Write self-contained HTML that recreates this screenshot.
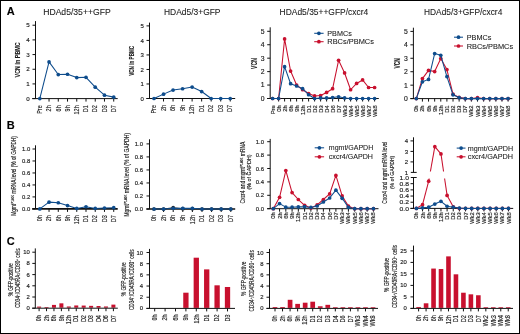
<!DOCTYPE html>
<html><head><meta charset="utf-8"><style>
html,body{margin:0;padding:0;background:#fff;}
body{width:520px;height:334px;overflow:hidden;}
svg{display:block;will-change:transform;font-family:"Liberation Sans", sans-serif;}
</style></head><body>
<svg width="520" height="334" viewBox="0 0 520 334">
<rect x="0" y="0" width="520" height="334" fill="#fff"/>
<text transform="translate(6.8,15.1)" font-size="11" text-anchor="start" font-weight="bold" fill="#000" stroke="#000" stroke-width="0.12">A</text>
<text transform="translate(6.8,128.9)" font-size="11" text-anchor="start" font-weight="bold" fill="#000" stroke="#000" stroke-width="0.12">B</text>
<text transform="translate(6.8,244.7)" font-size="11" text-anchor="start" font-weight="bold" fill="#000" stroke="#000" stroke-width="0.12">C</text>
<text transform="translate(43.2,15.4) scale(1.025,1)" font-size="8.4" text-anchor="start" fill="#1a1a1a" stroke="#1a1a1a" stroke-width="0.08">HDAd5/35++GFP</text>
<text transform="translate(164,15.4) scale(1.006,1)" font-size="8.4" text-anchor="start" fill="#1a1a1a" stroke="#1a1a1a" stroke-width="0.08">HDAd5/3+GFP</text>
<text transform="translate(279.6,15.4) scale(1.007,1)" font-size="8.4" text-anchor="start" fill="#1a1a1a" stroke="#1a1a1a" stroke-width="0.08">HDAd5/35++GFP/cxcr4</text>
<text transform="translate(424,15.4) scale(0.997,1)" font-size="8.4" text-anchor="start" fill="#1a1a1a" stroke="#1a1a1a" stroke-width="0.08">HDAd5/3+GFP/cxcr4</text>
<line x1="35.5" y1="21.1" x2="35.5" y2="98.6" stroke="#111" stroke-width="1"/>
<line x1="32.5" y1="98.6" x2="35.5" y2="98.6" stroke="#111" stroke-width="1"/>
<text transform="translate(29.8,100.77)" font-size="6.2" text-anchor="end" fill="#1a1a1a" stroke="#1a1a1a" stroke-width="0.15">0</text>
<line x1="32.5" y1="83.92" x2="35.5" y2="83.92" stroke="#111" stroke-width="1"/>
<text transform="translate(29.8,86.09)" font-size="6.2" text-anchor="end" fill="#1a1a1a" stroke="#1a1a1a" stroke-width="0.15">1</text>
<line x1="32.5" y1="69.25" x2="35.5" y2="69.25" stroke="#111" stroke-width="1"/>
<text transform="translate(29.8,71.42)" font-size="6.2" text-anchor="end" fill="#1a1a1a" stroke="#1a1a1a" stroke-width="0.15">2</text>
<line x1="32.5" y1="54.57" x2="35.5" y2="54.57" stroke="#111" stroke-width="1"/>
<text transform="translate(29.8,56.74)" font-size="6.2" text-anchor="end" fill="#1a1a1a" stroke="#1a1a1a" stroke-width="0.15">3</text>
<line x1="32.5" y1="39.9" x2="35.5" y2="39.9" stroke="#111" stroke-width="1"/>
<text transform="translate(29.8,42.07)" font-size="6.2" text-anchor="end" fill="#1a1a1a" stroke="#1a1a1a" stroke-width="0.15">4</text>
<line x1="32.5" y1="25.22" x2="35.5" y2="25.22" stroke="#111" stroke-width="1"/>
<text transform="translate(29.8,27.39)" font-size="6.2" text-anchor="end" fill="#1a1a1a" stroke="#1a1a1a" stroke-width="0.15">5</text>
<line x1="32.2" y1="98.6" x2="117.7" y2="98.6" stroke="#111" stroke-width="1"/>
<line x1="49.04" y1="98.6" x2="49.04" y2="101.6" stroke="#111" stroke-width="1"/>
<line x1="58.28" y1="98.6" x2="58.28" y2="101.6" stroke="#111" stroke-width="1"/>
<line x1="67.52" y1="98.6" x2="67.52" y2="101.6" stroke="#111" stroke-width="1"/>
<line x1="76.76" y1="98.6" x2="76.76" y2="101.6" stroke="#111" stroke-width="1"/>
<line x1="86" y1="98.6" x2="86" y2="101.6" stroke="#111" stroke-width="1"/>
<line x1="95.24" y1="98.6" x2="95.24" y2="101.6" stroke="#111" stroke-width="1"/>
<line x1="104.48" y1="98.6" x2="104.48" y2="101.6" stroke="#111" stroke-width="1"/>
<line x1="113.72" y1="98.6" x2="113.72" y2="101.6" stroke="#111" stroke-width="1"/>
<text transform="translate(42.04,105.3) rotate(-90) scale(0.860,1)" font-size="6.4" text-anchor="end" fill="#1a1a1a" stroke="#1a1a1a" stroke-width="0.15">Pre</text>
<text transform="translate(51.28,105.3) rotate(-90) scale(0.860,1)" font-size="6.4" text-anchor="end" fill="#1a1a1a" stroke="#1a1a1a" stroke-width="0.15">2h</text>
<text transform="translate(60.52,105.3) rotate(-90) scale(0.860,1)" font-size="6.4" text-anchor="end" fill="#1a1a1a" stroke="#1a1a1a" stroke-width="0.15">6h</text>
<text transform="translate(69.76,105.3) rotate(-90) scale(0.860,1)" font-size="6.4" text-anchor="end" fill="#1a1a1a" stroke="#1a1a1a" stroke-width="0.15">9h</text>
<text transform="translate(79,105.3) rotate(-90) scale(0.860,1)" font-size="6.4" text-anchor="end" fill="#1a1a1a" stroke="#1a1a1a" stroke-width="0.15">12h</text>
<text transform="translate(88.24,105.3) rotate(-90) scale(0.860,1)" font-size="6.4" text-anchor="end" fill="#1a1a1a" stroke="#1a1a1a" stroke-width="0.15">D1</text>
<text transform="translate(97.48,105.3) rotate(-90) scale(0.860,1)" font-size="6.4" text-anchor="end" fill="#1a1a1a" stroke="#1a1a1a" stroke-width="0.15">D2</text>
<text transform="translate(106.72,105.3) rotate(-90) scale(0.860,1)" font-size="6.4" text-anchor="end" fill="#1a1a1a" stroke="#1a1a1a" stroke-width="0.15">D3</text>
<text transform="translate(115.96,105.3) rotate(-90) scale(0.860,1)" font-size="6.4" text-anchor="end" fill="#1a1a1a" stroke="#1a1a1a" stroke-width="0.15">D7</text>
<polyline points="39.8,98.6 49.04,61.91 58.28,74.53 67.52,74.24 76.76,77.61 86,77.32 95.24,87.15 104.48,95.22 113.72,97.13" fill="none" stroke="#0e4c8c" stroke-width="1.05" stroke-linejoin="round"/>
<circle cx="39.8" cy="98.6" r="1.85" fill="#0e4c8c"/>
<circle cx="49.04" cy="61.91" r="1.85" fill="#0e4c8c"/>
<circle cx="58.28" cy="74.53" r="1.85" fill="#0e4c8c"/>
<circle cx="67.52" cy="74.24" r="1.85" fill="#0e4c8c"/>
<circle cx="76.76" cy="77.61" r="1.85" fill="#0e4c8c"/>
<circle cx="86" cy="77.32" r="1.85" fill="#0e4c8c"/>
<circle cx="95.24" cy="87.15" r="1.85" fill="#0e4c8c"/>
<circle cx="104.48" cy="95.22" r="1.85" fill="#0e4c8c"/>
<circle cx="113.72" cy="97.13" r="1.85" fill="#0e4c8c"/>
<text transform="translate(19.6,77.4) rotate(-90) scale(0.694,1)" font-size="7.8" text-anchor="start" font-weight="bold" fill="#1a1a1a" stroke="#1a1a1a" stroke-width="0.12">VCN in PBMC</text>
<line x1="149.5" y1="22.6" x2="149.5" y2="98.5" stroke="#111" stroke-width="1"/>
<line x1="146.5" y1="98.5" x2="149.5" y2="98.5" stroke="#111" stroke-width="1"/>
<text transform="translate(143.8,100.6)" font-size="6" text-anchor="end" fill="#1a1a1a" stroke="#1a1a1a" stroke-width="0.15">0</text>
<line x1="146.5" y1="83.98" x2="149.5" y2="83.98" stroke="#111" stroke-width="1"/>
<text transform="translate(143.8,86.08)" font-size="6" text-anchor="end" fill="#1a1a1a" stroke="#1a1a1a" stroke-width="0.15">1</text>
<line x1="146.5" y1="69.46" x2="149.5" y2="69.46" stroke="#111" stroke-width="1"/>
<text transform="translate(143.8,71.56)" font-size="6" text-anchor="end" fill="#1a1a1a" stroke="#1a1a1a" stroke-width="0.15">2</text>
<line x1="146.5" y1="54.94" x2="149.5" y2="54.94" stroke="#111" stroke-width="1"/>
<text transform="translate(143.8,57.04)" font-size="6" text-anchor="end" fill="#1a1a1a" stroke="#1a1a1a" stroke-width="0.15">3</text>
<line x1="146.5" y1="40.42" x2="149.5" y2="40.42" stroke="#111" stroke-width="1"/>
<text transform="translate(143.8,42.52)" font-size="6" text-anchor="end" fill="#1a1a1a" stroke="#1a1a1a" stroke-width="0.15">4</text>
<line x1="146.5" y1="25.9" x2="149.5" y2="25.9" stroke="#111" stroke-width="1"/>
<text transform="translate(143.8,28)" font-size="6" text-anchor="end" fill="#1a1a1a" stroke="#1a1a1a" stroke-width="0.15">5</text>
<line x1="146.4" y1="98.5" x2="235.2" y2="98.5" stroke="#111" stroke-width="1"/>
<line x1="163.53" y1="98.5" x2="163.53" y2="101.5" stroke="#111" stroke-width="1"/>
<line x1="173.06" y1="98.5" x2="173.06" y2="101.5" stroke="#111" stroke-width="1"/>
<line x1="182.59" y1="98.5" x2="182.59" y2="101.5" stroke="#111" stroke-width="1"/>
<line x1="192.12" y1="98.5" x2="192.12" y2="101.5" stroke="#111" stroke-width="1"/>
<line x1="201.65" y1="98.5" x2="201.65" y2="101.5" stroke="#111" stroke-width="1"/>
<line x1="211.18" y1="98.5" x2="211.18" y2="101.5" stroke="#111" stroke-width="1"/>
<line x1="220.71" y1="98.5" x2="220.71" y2="101.5" stroke="#111" stroke-width="1"/>
<line x1="230.24" y1="98.5" x2="230.24" y2="101.5" stroke="#111" stroke-width="1"/>
<text transform="translate(156.24,105) rotate(-90) scale(0.860,1)" font-size="6.4" text-anchor="end" fill="#1a1a1a" stroke="#1a1a1a" stroke-width="0.15">Pre</text>
<text transform="translate(165.77,105) rotate(-90) scale(0.860,1)" font-size="6.4" text-anchor="end" fill="#1a1a1a" stroke="#1a1a1a" stroke-width="0.15">2h</text>
<text transform="translate(175.3,105) rotate(-90) scale(0.860,1)" font-size="6.4" text-anchor="end" fill="#1a1a1a" stroke="#1a1a1a" stroke-width="0.15">6h</text>
<text transform="translate(184.83,105) rotate(-90) scale(0.860,1)" font-size="6.4" text-anchor="end" fill="#1a1a1a" stroke="#1a1a1a" stroke-width="0.15">9h</text>
<text transform="translate(194.36,105) rotate(-90) scale(0.860,1)" font-size="6.4" text-anchor="end" fill="#1a1a1a" stroke="#1a1a1a" stroke-width="0.15">12h</text>
<text transform="translate(203.89,105) rotate(-90) scale(0.860,1)" font-size="6.4" text-anchor="end" fill="#1a1a1a" stroke="#1a1a1a" stroke-width="0.15">D1</text>
<text transform="translate(213.42,105) rotate(-90) scale(0.860,1)" font-size="6.4" text-anchor="end" fill="#1a1a1a" stroke="#1a1a1a" stroke-width="0.15">D2</text>
<text transform="translate(222.95,105) rotate(-90) scale(0.860,1)" font-size="6.4" text-anchor="end" fill="#1a1a1a" stroke="#1a1a1a" stroke-width="0.15">D3</text>
<text transform="translate(232.48,105) rotate(-90) scale(0.860,1)" font-size="6.4" text-anchor="end" fill="#1a1a1a" stroke="#1a1a1a" stroke-width="0.15">D7</text>
<polyline points="154,98.5 163.53,94.14 173.06,90.08 182.59,88.77 192.12,87.03 201.65,91.53 211.18,98.5 220.71,98.5 230.24,98.5" fill="none" stroke="#0e4c8c" stroke-width="1.05" stroke-linejoin="round"/>
<circle cx="154" cy="98.5" r="1.85" fill="#0e4c8c"/>
<circle cx="163.53" cy="94.14" r="1.85" fill="#0e4c8c"/>
<circle cx="173.06" cy="90.08" r="1.85" fill="#0e4c8c"/>
<circle cx="182.59" cy="88.77" r="1.85" fill="#0e4c8c"/>
<circle cx="192.12" cy="87.03" r="1.85" fill="#0e4c8c"/>
<circle cx="201.65" cy="91.53" r="1.85" fill="#0e4c8c"/>
<circle cx="211.18" cy="98.5" r="1.85" fill="#0e4c8c"/>
<circle cx="220.71" cy="98.5" r="1.85" fill="#0e4c8c"/>
<circle cx="230.24" cy="98.5" r="1.85" fill="#0e4c8c"/>
<text transform="translate(134,75.8) rotate(-90) scale(0.681,1)" font-size="6.8" text-anchor="start" font-weight="bold" fill="#1a1a1a" stroke="#1a1a1a" stroke-width="0.12">VCN in PBMC</text>
<line x1="270.2" y1="27.3" x2="270.2" y2="98.5" stroke="#111" stroke-width="1"/>
<line x1="267.2" y1="98.5" x2="270.2" y2="98.5" stroke="#111" stroke-width="1"/>
<text transform="translate(264.5,100.88)" font-size="6.8" text-anchor="end" fill="#1a1a1a" stroke="#1a1a1a" stroke-width="0.15">0</text>
<line x1="267.2" y1="85.06" x2="270.2" y2="85.06" stroke="#111" stroke-width="1"/>
<text transform="translate(264.5,87.44)" font-size="6.8" text-anchor="end" fill="#1a1a1a" stroke="#1a1a1a" stroke-width="0.15">1</text>
<line x1="267.2" y1="71.62" x2="270.2" y2="71.62" stroke="#111" stroke-width="1"/>
<text transform="translate(264.5,74)" font-size="6.8" text-anchor="end" fill="#1a1a1a" stroke="#1a1a1a" stroke-width="0.15">2</text>
<line x1="267.2" y1="58.18" x2="270.2" y2="58.18" stroke="#111" stroke-width="1"/>
<text transform="translate(264.5,60.56)" font-size="6.8" text-anchor="end" fill="#1a1a1a" stroke="#1a1a1a" stroke-width="0.15">3</text>
<line x1="267.2" y1="44.74" x2="270.2" y2="44.74" stroke="#111" stroke-width="1"/>
<text transform="translate(264.5,47.12)" font-size="6.8" text-anchor="end" fill="#1a1a1a" stroke="#1a1a1a" stroke-width="0.15">4</text>
<line x1="267.2" y1="31.3" x2="270.2" y2="31.3" stroke="#111" stroke-width="1"/>
<text transform="translate(264.5,33.68)" font-size="6.8" text-anchor="end" fill="#1a1a1a" stroke="#1a1a1a" stroke-width="0.15">5</text>
<line x1="267" y1="98.5" x2="378.8" y2="98.5" stroke="#111" stroke-width="1"/>
<line x1="278.6" y1="98.5" x2="278.6" y2="101.5" stroke="#111" stroke-width="1"/>
<line x1="284.6" y1="98.5" x2="284.6" y2="101.5" stroke="#111" stroke-width="1"/>
<line x1="290.6" y1="98.5" x2="290.6" y2="101.5" stroke="#111" stroke-width="1"/>
<line x1="296.6" y1="98.5" x2="296.6" y2="101.5" stroke="#111" stroke-width="1"/>
<line x1="302.6" y1="98.5" x2="302.6" y2="101.5" stroke="#111" stroke-width="1"/>
<line x1="308.6" y1="98.5" x2="308.6" y2="101.5" stroke="#111" stroke-width="1"/>
<line x1="314.6" y1="98.5" x2="314.6" y2="101.5" stroke="#111" stroke-width="1"/>
<line x1="320.6" y1="98.5" x2="320.6" y2="101.5" stroke="#111" stroke-width="1"/>
<line x1="326.6" y1="98.5" x2="326.6" y2="101.5" stroke="#111" stroke-width="1"/>
<line x1="332.6" y1="98.5" x2="332.6" y2="101.5" stroke="#111" stroke-width="1"/>
<line x1="338.6" y1="98.5" x2="338.6" y2="101.5" stroke="#111" stroke-width="1"/>
<line x1="344.6" y1="98.5" x2="344.6" y2="101.5" stroke="#111" stroke-width="1"/>
<line x1="350.6" y1="98.5" x2="350.6" y2="101.5" stroke="#111" stroke-width="1"/>
<line x1="356.6" y1="98.5" x2="356.6" y2="101.5" stroke="#111" stroke-width="1"/>
<line x1="362.6" y1="98.5" x2="362.6" y2="101.5" stroke="#111" stroke-width="1"/>
<line x1="368.6" y1="98.5" x2="368.6" y2="101.5" stroke="#111" stroke-width="1"/>
<line x1="374.6" y1="98.5" x2="374.6" y2="101.5" stroke="#111" stroke-width="1"/>
<text transform="translate(274.63,105.3) rotate(-90)" font-size="5.8" text-anchor="end" fill="#1a1a1a" stroke="#1a1a1a" stroke-width="0.15">Pre</text>
<text transform="translate(280.63,105.3) rotate(-90)" font-size="5.8" text-anchor="end" fill="#1a1a1a" stroke="#1a1a1a" stroke-width="0.15">0h</text>
<text transform="translate(286.63,105.3) rotate(-90)" font-size="5.8" text-anchor="end" fill="#1a1a1a" stroke="#1a1a1a" stroke-width="0.15">2h</text>
<text transform="translate(292.63,105.3) rotate(-90)" font-size="5.8" text-anchor="end" fill="#1a1a1a" stroke="#1a1a1a" stroke-width="0.15">6h</text>
<text transform="translate(298.63,105.3) rotate(-90)" font-size="5.8" text-anchor="end" fill="#1a1a1a" stroke="#1a1a1a" stroke-width="0.15">9h</text>
<text transform="translate(304.63,105.3) rotate(-90)" font-size="5.8" text-anchor="end" fill="#1a1a1a" stroke="#1a1a1a" stroke-width="0.15">12h</text>
<text transform="translate(310.63,105.3) rotate(-90)" font-size="5.8" text-anchor="end" fill="#1a1a1a" stroke="#1a1a1a" stroke-width="0.15">D1</text>
<text transform="translate(316.63,105.3) rotate(-90)" font-size="5.8" text-anchor="end" fill="#1a1a1a" stroke="#1a1a1a" stroke-width="0.15">D2</text>
<text transform="translate(322.63,105.3) rotate(-90)" font-size="5.8" text-anchor="end" fill="#1a1a1a" stroke="#1a1a1a" stroke-width="0.15">D3</text>
<text transform="translate(328.63,105.3) rotate(-90)" font-size="5.8" text-anchor="end" fill="#1a1a1a" stroke="#1a1a1a" stroke-width="0.15">D4</text>
<text transform="translate(334.63,105.3) rotate(-90)" font-size="5.8" text-anchor="end" fill="#1a1a1a" stroke="#1a1a1a" stroke-width="0.15">D6</text>
<text transform="translate(340.63,105.3) rotate(-90)" font-size="5.8" text-anchor="end" fill="#1a1a1a" stroke="#1a1a1a" stroke-width="0.15">D7</text>
<text transform="translate(346.63,105.3) rotate(-90)" font-size="5.8" text-anchor="end" fill="#1a1a1a" stroke="#1a1a1a" stroke-width="0.15">Wk3</text>
<text transform="translate(352.63,105.3) rotate(-90)" font-size="5.8" text-anchor="end" fill="#1a1a1a" stroke="#1a1a1a" stroke-width="0.15">Wk4</text>
<text transform="translate(358.63,105.3) rotate(-90)" font-size="5.8" text-anchor="end" fill="#1a1a1a" stroke="#1a1a1a" stroke-width="0.15">Wk5</text>
<text transform="translate(364.63,105.3) rotate(-90)" font-size="5.8" text-anchor="end" fill="#1a1a1a" stroke="#1a1a1a" stroke-width="0.15">Wk6</text>
<text transform="translate(370.63,105.3) rotate(-90)" font-size="5.8" text-anchor="end" fill="#1a1a1a" stroke="#1a1a1a" stroke-width="0.15">Wk7</text>
<text transform="translate(376.63,105.3) rotate(-90)" font-size="5.8" text-anchor="end" fill="#1a1a1a" stroke="#1a1a1a" stroke-width="0.15">Wk8</text>
<polyline points="272.6,98.5 278.6,98.5 284.6,38.96 290.6,71.08 296.6,85.06 302.6,89.76 308.6,93.53 314.6,95.95 320.6,95.54 326.6,92.45 332.6,88.69 338.6,60.33 344.6,72.96 350.6,89.76 356.6,83.45 362.6,79.95 368.6,87.48 374.6,87.48" fill="none" stroke="#c8102e" stroke-width="1.05" stroke-linejoin="round"/>
<circle cx="272.6" cy="98.5" r="1.85" fill="#c8102e"/>
<circle cx="278.6" cy="98.5" r="1.85" fill="#c8102e"/>
<circle cx="284.6" cy="38.96" r="1.85" fill="#c8102e"/>
<circle cx="290.6" cy="71.08" r="1.85" fill="#c8102e"/>
<circle cx="296.6" cy="85.06" r="1.85" fill="#c8102e"/>
<circle cx="302.6" cy="89.76" r="1.85" fill="#c8102e"/>
<circle cx="308.6" cy="93.53" r="1.85" fill="#c8102e"/>
<circle cx="314.6" cy="95.95" r="1.85" fill="#c8102e"/>
<circle cx="320.6" cy="95.54" r="1.85" fill="#c8102e"/>
<circle cx="326.6" cy="92.45" r="1.85" fill="#c8102e"/>
<circle cx="332.6" cy="88.69" r="1.85" fill="#c8102e"/>
<circle cx="338.6" cy="60.33" r="1.85" fill="#c8102e"/>
<circle cx="344.6" cy="72.96" r="1.85" fill="#c8102e"/>
<circle cx="350.6" cy="89.76" r="1.85" fill="#c8102e"/>
<circle cx="356.6" cy="83.45" r="1.85" fill="#c8102e"/>
<circle cx="362.6" cy="79.95" r="1.85" fill="#c8102e"/>
<circle cx="368.6" cy="87.48" r="1.85" fill="#c8102e"/>
<circle cx="374.6" cy="87.48" r="1.85" fill="#c8102e"/>
<polyline points="272.6,98.5 278.6,98.5 284.6,66.65 290.6,83.72 296.6,86 302.6,88.69 308.6,94.74 314.6,98.5 320.6,97.96 326.6,97.96 332.6,97.56 338.6,96.75 344.6,97.96 350.6,98.5 356.6,98.5 362.6,98.5 368.6,98.5 374.6,98.5" fill="none" stroke="#0e4c8c" stroke-width="1.05" stroke-linejoin="round"/>
<circle cx="272.6" cy="98.5" r="1.85" fill="#0e4c8c"/>
<circle cx="278.6" cy="98.5" r="1.85" fill="#0e4c8c"/>
<circle cx="284.6" cy="66.65" r="1.85" fill="#0e4c8c"/>
<circle cx="290.6" cy="83.72" r="1.85" fill="#0e4c8c"/>
<circle cx="296.6" cy="86" r="1.85" fill="#0e4c8c"/>
<circle cx="302.6" cy="88.69" r="1.85" fill="#0e4c8c"/>
<circle cx="308.6" cy="94.74" r="1.85" fill="#0e4c8c"/>
<circle cx="314.6" cy="98.5" r="1.85" fill="#0e4c8c"/>
<circle cx="320.6" cy="97.96" r="1.85" fill="#0e4c8c"/>
<circle cx="326.6" cy="97.96" r="1.85" fill="#0e4c8c"/>
<circle cx="332.6" cy="97.56" r="1.85" fill="#0e4c8c"/>
<circle cx="338.6" cy="96.75" r="1.85" fill="#0e4c8c"/>
<circle cx="344.6" cy="97.96" r="1.85" fill="#0e4c8c"/>
<circle cx="350.6" cy="98.5" r="1.85" fill="#0e4c8c"/>
<circle cx="356.6" cy="98.5" r="1.85" fill="#0e4c8c"/>
<circle cx="362.6" cy="98.5" r="1.85" fill="#0e4c8c"/>
<circle cx="368.6" cy="98.5" r="1.85" fill="#0e4c8c"/>
<circle cx="374.6" cy="98.5" r="1.85" fill="#0e4c8c"/>
<text transform="translate(256.5,68.9) rotate(-90) scale(0.624,1)" font-size="8.2" text-anchor="start" font-weight="bold" fill="#1a1a1a" stroke="#1a1a1a" stroke-width="0.12">VCN</text>
<line x1="314.2" y1="33.3" x2="323.6" y2="33.3" stroke="#0e4c8c" stroke-width="1.05"/>
<circle cx="318.9" cy="33.3" r="1.85" fill="#0e4c8c"/>
<text transform="translate(327.3,35.85) scale(0.990,1)" font-size="7.3" text-anchor="start" fill="#1a1a1a" stroke="#1a1a1a" stroke-width="0.08">PBMCs</text>
<line x1="314.2" y1="41.7" x2="323.6" y2="41.7" stroke="#c8102e" stroke-width="1.05"/>
<circle cx="318.9" cy="41.7" r="1.85" fill="#c8102e"/>
<text transform="translate(327.3,44.26) scale(1.017,1)" font-size="7.3" text-anchor="start" fill="#1a1a1a" stroke="#1a1a1a" stroke-width="0.08">RBCs/PBMCs</text>
<line x1="413.4" y1="27.7" x2="413.4" y2="98.6" stroke="#111" stroke-width="1"/>
<line x1="410.4" y1="98.6" x2="413.4" y2="98.6" stroke="#111" stroke-width="1"/>
<text transform="translate(407.7,100.98)" font-size="6.8" text-anchor="end" fill="#1a1a1a" stroke="#1a1a1a" stroke-width="0.15">0</text>
<line x1="410.4" y1="85.16" x2="413.4" y2="85.16" stroke="#111" stroke-width="1"/>
<text transform="translate(407.7,87.54)" font-size="6.8" text-anchor="end" fill="#1a1a1a" stroke="#1a1a1a" stroke-width="0.15">1</text>
<line x1="410.4" y1="71.72" x2="413.4" y2="71.72" stroke="#111" stroke-width="1"/>
<text transform="translate(407.7,74.1)" font-size="6.8" text-anchor="end" fill="#1a1a1a" stroke="#1a1a1a" stroke-width="0.15">2</text>
<line x1="410.4" y1="58.28" x2="413.4" y2="58.28" stroke="#111" stroke-width="1"/>
<text transform="translate(407.7,60.66)" font-size="6.8" text-anchor="end" fill="#1a1a1a" stroke="#1a1a1a" stroke-width="0.15">3</text>
<line x1="410.4" y1="44.84" x2="413.4" y2="44.84" stroke="#111" stroke-width="1"/>
<text transform="translate(407.7,47.22)" font-size="6.8" text-anchor="end" fill="#1a1a1a" stroke="#1a1a1a" stroke-width="0.15">4</text>
<line x1="410.4" y1="31.4" x2="413.4" y2="31.4" stroke="#111" stroke-width="1"/>
<text transform="translate(407.7,33.78)" font-size="6.8" text-anchor="end" fill="#1a1a1a" stroke="#1a1a1a" stroke-width="0.15">5</text>
<line x1="410.4" y1="98.6" x2="512.4" y2="98.6" stroke="#111" stroke-width="1"/>
<line x1="422.42" y1="98.6" x2="422.42" y2="101.6" stroke="#111" stroke-width="1"/>
<line x1="428.54" y1="98.6" x2="428.54" y2="101.6" stroke="#111" stroke-width="1"/>
<line x1="434.66" y1="98.6" x2="434.66" y2="101.6" stroke="#111" stroke-width="1"/>
<line x1="440.78" y1="98.6" x2="440.78" y2="101.6" stroke="#111" stroke-width="1"/>
<line x1="446.9" y1="98.6" x2="446.9" y2="101.6" stroke="#111" stroke-width="1"/>
<line x1="453.02" y1="98.6" x2="453.02" y2="101.6" stroke="#111" stroke-width="1"/>
<line x1="459.14" y1="98.6" x2="459.14" y2="101.6" stroke="#111" stroke-width="1"/>
<line x1="465.26" y1="98.6" x2="465.26" y2="101.6" stroke="#111" stroke-width="1"/>
<line x1="471.38" y1="98.6" x2="471.38" y2="101.6" stroke="#111" stroke-width="1"/>
<line x1="477.5" y1="98.6" x2="477.5" y2="101.6" stroke="#111" stroke-width="1"/>
<line x1="483.62" y1="98.6" x2="483.62" y2="101.6" stroke="#111" stroke-width="1"/>
<line x1="489.74" y1="98.6" x2="489.74" y2="101.6" stroke="#111" stroke-width="1"/>
<line x1="495.86" y1="98.6" x2="495.86" y2="101.6" stroke="#111" stroke-width="1"/>
<line x1="501.98" y1="98.6" x2="501.98" y2="101.6" stroke="#111" stroke-width="1"/>
<line x1="508.1" y1="98.6" x2="508.1" y2="101.6" stroke="#111" stroke-width="1"/>
<text transform="translate(418.33,105.4) rotate(-90)" font-size="5.8" text-anchor="end" fill="#1a1a1a" stroke="#1a1a1a" stroke-width="0.15">0h</text>
<text transform="translate(424.45,105.4) rotate(-90)" font-size="5.8" text-anchor="end" fill="#1a1a1a" stroke="#1a1a1a" stroke-width="0.15">2h</text>
<text transform="translate(430.57,105.4) rotate(-90)" font-size="5.8" text-anchor="end" fill="#1a1a1a" stroke="#1a1a1a" stroke-width="0.15">6h</text>
<text transform="translate(436.69,105.4) rotate(-90)" font-size="5.8" text-anchor="end" fill="#1a1a1a" stroke="#1a1a1a" stroke-width="0.15">9h</text>
<text transform="translate(442.81,105.4) rotate(-90)" font-size="5.8" text-anchor="end" fill="#1a1a1a" stroke="#1a1a1a" stroke-width="0.15">12h</text>
<text transform="translate(448.93,105.4) rotate(-90)" font-size="5.8" text-anchor="end" fill="#1a1a1a" stroke="#1a1a1a" stroke-width="0.15">D1</text>
<text transform="translate(455.05,105.4) rotate(-90)" font-size="5.8" text-anchor="end" fill="#1a1a1a" stroke="#1a1a1a" stroke-width="0.15">D2</text>
<text transform="translate(461.17,105.4) rotate(-90)" font-size="5.8" text-anchor="end" fill="#1a1a1a" stroke="#1a1a1a" stroke-width="0.15">D3</text>
<text transform="translate(467.29,105.4) rotate(-90)" font-size="5.8" text-anchor="end" fill="#1a1a1a" stroke="#1a1a1a" stroke-width="0.15">D7</text>
<text transform="translate(473.41,105.4) rotate(-90)" font-size="5.8" text-anchor="end" fill="#1a1a1a" stroke="#1a1a1a" stroke-width="0.15">Wk2</text>
<text transform="translate(479.53,105.4) rotate(-90)" font-size="5.8" text-anchor="end" fill="#1a1a1a" stroke="#1a1a1a" stroke-width="0.15">Wk3</text>
<text transform="translate(485.65,105.4) rotate(-90)" font-size="5.8" text-anchor="end" fill="#1a1a1a" stroke="#1a1a1a" stroke-width="0.15">Wk4</text>
<text transform="translate(491.77,105.4) rotate(-90)" font-size="5.8" text-anchor="end" fill="#1a1a1a" stroke="#1a1a1a" stroke-width="0.15">Wk5</text>
<text transform="translate(497.89,105.4) rotate(-90)" font-size="5.8" text-anchor="end" fill="#1a1a1a" stroke="#1a1a1a" stroke-width="0.15">Wk6</text>
<text transform="translate(504.01,105.4) rotate(-90)" font-size="5.8" text-anchor="end" fill="#1a1a1a" stroke="#1a1a1a" stroke-width="0.15">Wk7</text>
<text transform="translate(510.13,105.4) rotate(-90)" font-size="5.8" text-anchor="end" fill="#1a1a1a" stroke="#1a1a1a" stroke-width="0.15">Wk8</text>
<polyline points="416.3,98.6 422.42,78.57 428.54,70.38 434.66,71.59 440.78,58.55 446.9,69.57 453.02,94.16 459.14,97.39 465.26,98.6 471.38,98.6 477.5,97.66 483.62,98.6 489.74,98.6 495.86,98.6 501.98,98.6 508.1,98.6" fill="none" stroke="#c8102e" stroke-width="1.05" stroke-linejoin="round"/>
<circle cx="416.3" cy="98.6" r="1.85" fill="#c8102e"/>
<circle cx="422.42" cy="78.57" r="1.85" fill="#c8102e"/>
<circle cx="428.54" cy="70.38" r="1.85" fill="#c8102e"/>
<circle cx="434.66" cy="71.59" r="1.85" fill="#c8102e"/>
<circle cx="440.78" cy="58.55" r="1.85" fill="#c8102e"/>
<circle cx="446.9" cy="69.57" r="1.85" fill="#c8102e"/>
<circle cx="453.02" cy="94.16" r="1.85" fill="#c8102e"/>
<circle cx="459.14" cy="97.39" r="1.85" fill="#c8102e"/>
<circle cx="465.26" cy="98.6" r="1.85" fill="#c8102e"/>
<circle cx="471.38" cy="98.6" r="1.85" fill="#c8102e"/>
<circle cx="477.5" cy="97.66" r="1.85" fill="#c8102e"/>
<circle cx="483.62" cy="98.6" r="1.85" fill="#c8102e"/>
<circle cx="489.74" cy="98.6" r="1.85" fill="#c8102e"/>
<circle cx="495.86" cy="98.6" r="1.85" fill="#c8102e"/>
<circle cx="501.98" cy="98.6" r="1.85" fill="#c8102e"/>
<circle cx="508.1" cy="98.6" r="1.85" fill="#c8102e"/>
<polyline points="416.3,98.6 422.42,81.8 428.54,79.38 434.66,53.58 440.78,55.32 446.9,76.56 453.02,94.84 459.14,97.66 465.26,98.6 471.38,98.6 477.5,98.6 483.62,98.6 489.74,98.6 495.86,98.6 501.98,98.6 508.1,98.6" fill="none" stroke="#0e4c8c" stroke-width="1.05" stroke-linejoin="round"/>
<circle cx="416.3" cy="98.6" r="1.85" fill="#0e4c8c"/>
<circle cx="422.42" cy="81.8" r="1.85" fill="#0e4c8c"/>
<circle cx="428.54" cy="79.38" r="1.85" fill="#0e4c8c"/>
<circle cx="434.66" cy="53.58" r="1.85" fill="#0e4c8c"/>
<circle cx="440.78" cy="55.32" r="1.85" fill="#0e4c8c"/>
<circle cx="446.9" cy="76.56" r="1.85" fill="#0e4c8c"/>
<circle cx="453.02" cy="94.84" r="1.85" fill="#0e4c8c"/>
<circle cx="459.14" cy="97.66" r="1.85" fill="#0e4c8c"/>
<circle cx="465.26" cy="98.6" r="1.85" fill="#0e4c8c"/>
<circle cx="471.38" cy="98.6" r="1.85" fill="#0e4c8c"/>
<circle cx="477.5" cy="98.6" r="1.85" fill="#0e4c8c"/>
<circle cx="483.62" cy="98.6" r="1.85" fill="#0e4c8c"/>
<circle cx="489.74" cy="98.6" r="1.85" fill="#0e4c8c"/>
<circle cx="495.86" cy="98.6" r="1.85" fill="#0e4c8c"/>
<circle cx="501.98" cy="98.6" r="1.85" fill="#0e4c8c"/>
<circle cx="508.1" cy="98.6" r="1.85" fill="#0e4c8c"/>
<text transform="translate(400,68.4) rotate(-90) scale(0.595,1)" font-size="8.2" text-anchor="start" font-weight="bold" fill="#1a1a1a" stroke="#1a1a1a" stroke-width="0.12">VCN</text>
<line x1="454" y1="37.2" x2="463" y2="37.2" stroke="#0e4c8c" stroke-width="1.05"/>
<circle cx="458.5" cy="37.2" r="1.85" fill="#0e4c8c"/>
<text transform="translate(466.7,39.76) scale(0.998,1)" font-size="7.3" text-anchor="start" fill="#1a1a1a" stroke="#1a1a1a" stroke-width="0.08">PBMCs</text>
<line x1="454" y1="46" x2="463" y2="46" stroke="#c8102e" stroke-width="1.05"/>
<circle cx="458.5" cy="46" r="1.85" fill="#c8102e"/>
<text transform="translate(466.7,48.55) scale(1.015,1)" font-size="7.3" text-anchor="start" fill="#1a1a1a" stroke="#1a1a1a" stroke-width="0.08">RBCs/PBMCs</text>
<line x1="35.5" y1="145.3" x2="35.5" y2="208.9" stroke="#111" stroke-width="1"/>
<line x1="32.5" y1="208.9" x2="35.5" y2="208.9" stroke="#111" stroke-width="1"/>
<text transform="translate(30.2,210.97)" font-size="5.9" text-anchor="end" fill="#1a1a1a" stroke="#1a1a1a" stroke-width="0.15">0.0</text>
<line x1="32.5" y1="196.92" x2="35.5" y2="196.92" stroke="#111" stroke-width="1"/>
<text transform="translate(30.2,198.99)" font-size="5.9" text-anchor="end" fill="#1a1a1a" stroke="#1a1a1a" stroke-width="0.15">0.2</text>
<line x1="32.5" y1="184.94" x2="35.5" y2="184.94" stroke="#111" stroke-width="1"/>
<text transform="translate(30.2,187)" font-size="5.9" text-anchor="end" fill="#1a1a1a" stroke="#1a1a1a" stroke-width="0.15">0.4</text>
<line x1="32.5" y1="172.96" x2="35.5" y2="172.96" stroke="#111" stroke-width="1"/>
<text transform="translate(30.2,175.03)" font-size="5.9" text-anchor="end" fill="#1a1a1a" stroke="#1a1a1a" stroke-width="0.15">0.6</text>
<line x1="32.5" y1="160.98" x2="35.5" y2="160.98" stroke="#111" stroke-width="1"/>
<text transform="translate(30.2,163.05)" font-size="5.9" text-anchor="end" fill="#1a1a1a" stroke="#1a1a1a" stroke-width="0.15">0.8</text>
<line x1="32.5" y1="149" x2="35.5" y2="149" stroke="#111" stroke-width="1"/>
<text transform="translate(30.2,151.06)" font-size="5.9" text-anchor="end" fill="#1a1a1a" stroke="#1a1a1a" stroke-width="0.15">1.0</text>
<line x1="32.2" y1="208.9" x2="117.7" y2="208.9" stroke="#111" stroke-width="1.6"/>
<line x1="49.04" y1="208.9" x2="49.04" y2="211.9" stroke="#111" stroke-width="1"/>
<line x1="58.28" y1="208.9" x2="58.28" y2="211.9" stroke="#111" stroke-width="1"/>
<line x1="67.52" y1="208.9" x2="67.52" y2="211.9" stroke="#111" stroke-width="1"/>
<line x1="76.76" y1="208.9" x2="76.76" y2="211.9" stroke="#111" stroke-width="1"/>
<line x1="86" y1="208.9" x2="86" y2="211.9" stroke="#111" stroke-width="1"/>
<line x1="95.24" y1="208.9" x2="95.24" y2="211.9" stroke="#111" stroke-width="1"/>
<line x1="104.48" y1="208.9" x2="104.48" y2="211.9" stroke="#111" stroke-width="1"/>
<line x1="113.72" y1="208.9" x2="113.72" y2="211.9" stroke="#111" stroke-width="1"/>
<text transform="translate(42.04,215.2) rotate(-90) scale(0.860,1)" font-size="6.4" text-anchor="end" fill="#1a1a1a" stroke="#1a1a1a" stroke-width="0.15">0h</text>
<text transform="translate(51.28,215.2) rotate(-90) scale(0.860,1)" font-size="6.4" text-anchor="end" fill="#1a1a1a" stroke="#1a1a1a" stroke-width="0.15">2h</text>
<text transform="translate(60.52,215.2) rotate(-90) scale(0.860,1)" font-size="6.4" text-anchor="end" fill="#1a1a1a" stroke="#1a1a1a" stroke-width="0.15">6h</text>
<text transform="translate(69.76,215.2) rotate(-90) scale(0.860,1)" font-size="6.4" text-anchor="end" fill="#1a1a1a" stroke="#1a1a1a" stroke-width="0.15">9h</text>
<text transform="translate(79,215.2) rotate(-90) scale(0.860,1)" font-size="6.4" text-anchor="end" fill="#1a1a1a" stroke="#1a1a1a" stroke-width="0.15">12h</text>
<text transform="translate(88.24,215.2) rotate(-90) scale(0.860,1)" font-size="6.4" text-anchor="end" fill="#1a1a1a" stroke="#1a1a1a" stroke-width="0.15">D1</text>
<text transform="translate(97.48,215.2) rotate(-90) scale(0.860,1)" font-size="6.4" text-anchor="end" fill="#1a1a1a" stroke="#1a1a1a" stroke-width="0.15">D2</text>
<text transform="translate(106.72,215.2) rotate(-90) scale(0.860,1)" font-size="6.4" text-anchor="end" fill="#1a1a1a" stroke="#1a1a1a" stroke-width="0.15">D3</text>
<text transform="translate(115.96,215.2) rotate(-90) scale(0.860,1)" font-size="6.4" text-anchor="end" fill="#1a1a1a" stroke="#1a1a1a" stroke-width="0.15">D7</text>
<polyline points="39.8,208.9 49.04,202.13 58.28,202.73 67.52,205.61 76.76,208.42 86,206.74 95.24,208.42 104.48,208 113.72,207.7" fill="none" stroke="#0e4c8c" stroke-width="1.05" stroke-linejoin="round"/>
<circle cx="39.8" cy="208.9" r="1.85" fill="#0e4c8c"/>
<circle cx="49.04" cy="202.13" r="1.85" fill="#0e4c8c"/>
<circle cx="58.28" cy="202.73" r="1.85" fill="#0e4c8c"/>
<circle cx="67.52" cy="205.61" r="1.85" fill="#0e4c8c"/>
<circle cx="76.76" cy="208.42" r="1.85" fill="#0e4c8c"/>
<circle cx="86" cy="206.74" r="1.85" fill="#0e4c8c"/>
<circle cx="95.24" cy="208.42" r="1.85" fill="#0e4c8c"/>
<circle cx="104.48" cy="208" r="1.85" fill="#0e4c8c"/>
<circle cx="113.72" cy="207.7" r="1.85" fill="#0e4c8c"/>
<text transform="translate(16,215.8) rotate(-90) scale(0.738,1)" font-size="6.5" text-anchor="start" fill="#1a1a1a" stroke="#1a1a1a" stroke-width="0.15">Mgmt<tspan font-size="4.03" dy="-2.27">P140K</tspan><tspan dy="2.27"> mRNA level (% of GAPDH)</tspan></text>
<line x1="149.5" y1="139.3" x2="149.5" y2="209" stroke="#111" stroke-width="1"/>
<line x1="146.5" y1="209" x2="149.5" y2="209" stroke="#111" stroke-width="1"/>
<text transform="translate(143,211.06)" font-size="5.9" text-anchor="end" fill="#1a1a1a" stroke="#1a1a1a" stroke-width="0.15">0.0</text>
<line x1="146.5" y1="195.98" x2="149.5" y2="195.98" stroke="#111" stroke-width="1"/>
<text transform="translate(143,198.04)" font-size="5.9" text-anchor="end" fill="#1a1a1a" stroke="#1a1a1a" stroke-width="0.15">0.2</text>
<line x1="146.5" y1="182.96" x2="149.5" y2="182.96" stroke="#111" stroke-width="1"/>
<text transform="translate(143,185.03)" font-size="5.9" text-anchor="end" fill="#1a1a1a" stroke="#1a1a1a" stroke-width="0.15">0.4</text>
<line x1="146.5" y1="169.94" x2="149.5" y2="169.94" stroke="#111" stroke-width="1"/>
<text transform="translate(143,172)" font-size="5.9" text-anchor="end" fill="#1a1a1a" stroke="#1a1a1a" stroke-width="0.15">0.6</text>
<line x1="146.5" y1="156.92" x2="149.5" y2="156.92" stroke="#111" stroke-width="1"/>
<text transform="translate(143,158.99)" font-size="5.9" text-anchor="end" fill="#1a1a1a" stroke="#1a1a1a" stroke-width="0.15">0.8</text>
<line x1="146.5" y1="143.9" x2="149.5" y2="143.9" stroke="#111" stroke-width="1"/>
<text transform="translate(143,145.97)" font-size="5.9" text-anchor="end" fill="#1a1a1a" stroke="#1a1a1a" stroke-width="0.15">1.0</text>
<line x1="146.4" y1="209" x2="235.2" y2="209" stroke="#111" stroke-width="1.6"/>
<line x1="163.6" y1="209" x2="163.6" y2="212" stroke="#111" stroke-width="1"/>
<line x1="173.2" y1="209" x2="173.2" y2="212" stroke="#111" stroke-width="1"/>
<line x1="182.8" y1="209" x2="182.8" y2="212" stroke="#111" stroke-width="1"/>
<line x1="192.4" y1="209" x2="192.4" y2="212" stroke="#111" stroke-width="1"/>
<line x1="202" y1="209" x2="202" y2="212" stroke="#111" stroke-width="1"/>
<line x1="211.6" y1="209" x2="211.6" y2="212" stroke="#111" stroke-width="1"/>
<line x1="221.2" y1="209" x2="221.2" y2="212" stroke="#111" stroke-width="1"/>
<line x1="230.8" y1="209" x2="230.8" y2="212" stroke="#111" stroke-width="1"/>
<text transform="translate(156.24,215) rotate(-90) scale(0.860,1)" font-size="6.4" text-anchor="end" fill="#1a1a1a" stroke="#1a1a1a" stroke-width="0.15">0h</text>
<text transform="translate(165.84,215) rotate(-90) scale(0.860,1)" font-size="6.4" text-anchor="end" fill="#1a1a1a" stroke="#1a1a1a" stroke-width="0.15">2h</text>
<text transform="translate(175.44,215) rotate(-90) scale(0.860,1)" font-size="6.4" text-anchor="end" fill="#1a1a1a" stroke="#1a1a1a" stroke-width="0.15">6h</text>
<text transform="translate(185.04,215) rotate(-90) scale(0.860,1)" font-size="6.4" text-anchor="end" fill="#1a1a1a" stroke="#1a1a1a" stroke-width="0.15">9h</text>
<text transform="translate(194.64,215) rotate(-90) scale(0.860,1)" font-size="6.4" text-anchor="end" fill="#1a1a1a" stroke="#1a1a1a" stroke-width="0.15">12h</text>
<text transform="translate(204.24,215) rotate(-90) scale(0.860,1)" font-size="6.4" text-anchor="end" fill="#1a1a1a" stroke="#1a1a1a" stroke-width="0.15">D1</text>
<text transform="translate(213.84,215) rotate(-90) scale(0.860,1)" font-size="6.4" text-anchor="end" fill="#1a1a1a" stroke="#1a1a1a" stroke-width="0.15">D2</text>
<text transform="translate(223.44,215) rotate(-90) scale(0.860,1)" font-size="6.4" text-anchor="end" fill="#1a1a1a" stroke="#1a1a1a" stroke-width="0.15">D3</text>
<text transform="translate(233.04,215) rotate(-90) scale(0.860,1)" font-size="6.4" text-anchor="end" fill="#1a1a1a" stroke="#1a1a1a" stroke-width="0.15">D7</text>
<polyline points="154,209 163.6,209 173.2,207.7 182.8,208.67 192.4,208.67 202,209 211.6,209 221.2,209 230.8,209" fill="none" stroke="#222" stroke-width="1.05" stroke-linejoin="round"/>
<circle cx="154" cy="209" r="1.85" fill="#222"/>
<circle cx="163.6" cy="209" r="1.85" fill="#222"/>
<circle cx="173.2" cy="207.7" r="1.85" fill="#222"/>
<circle cx="182.8" cy="208.67" r="1.85" fill="#222"/>
<circle cx="192.4" cy="208.67" r="1.85" fill="#222"/>
<circle cx="202" cy="209" r="1.85" fill="#222"/>
<circle cx="211.6" cy="209" r="1.85" fill="#222"/>
<circle cx="221.2" cy="209" r="1.85" fill="#222"/>
<circle cx="230.8" cy="209" r="1.85" fill="#222"/>
<polyline points="154,209 163.6,209 173.2,208.35 182.8,208.35 192.4,208.35 202,209 211.6,209 221.2,209 230.8,209" fill="none" stroke="#0e4c8c" stroke-width="1.05" stroke-linejoin="round"/>
<circle cx="154" cy="209" r="1.85" fill="#0e4c8c"/>
<circle cx="163.6" cy="209" r="1.85" fill="#0e4c8c"/>
<circle cx="173.2" cy="208.35" r="1.85" fill="#0e4c8c"/>
<circle cx="182.8" cy="208.35" r="1.85" fill="#0e4c8c"/>
<circle cx="192.4" cy="208.35" r="1.85" fill="#0e4c8c"/>
<circle cx="202" cy="209" r="1.85" fill="#0e4c8c"/>
<circle cx="211.6" cy="209" r="1.85" fill="#0e4c8c"/>
<circle cx="221.2" cy="209" r="1.85" fill="#0e4c8c"/>
<circle cx="230.8" cy="209" r="1.85" fill="#0e4c8c"/>
<text transform="translate(129,216.6) rotate(-90) scale(0.752,1)" font-size="6.7" text-anchor="start" fill="#1a1a1a" stroke="#1a1a1a" stroke-width="0.15">Mgmt<tspan font-size="4.15" dy="-2.34">P140K</tspan><tspan dy="2.34"> mRNA level (% of GAPDH)</tspan></text>
<line x1="270.2" y1="138.9" x2="270.2" y2="208.7" stroke="#111" stroke-width="1"/>
<line x1="267.2" y1="208.7" x2="270.2" y2="208.7" stroke="#111" stroke-width="1"/>
<text transform="translate(264,210.76)" font-size="5.9" text-anchor="end" fill="#1a1a1a" stroke="#1a1a1a" stroke-width="0.15">0.0</text>
<line x1="267.2" y1="195.3" x2="270.2" y2="195.3" stroke="#111" stroke-width="1"/>
<text transform="translate(264,197.36)" font-size="5.9" text-anchor="end" fill="#1a1a1a" stroke="#1a1a1a" stroke-width="0.15">0.2</text>
<line x1="267.2" y1="181.9" x2="270.2" y2="181.9" stroke="#111" stroke-width="1"/>
<text transform="translate(264,183.96)" font-size="5.9" text-anchor="end" fill="#1a1a1a" stroke="#1a1a1a" stroke-width="0.15">0.4</text>
<line x1="267.2" y1="168.5" x2="270.2" y2="168.5" stroke="#111" stroke-width="1"/>
<text transform="translate(264,170.56)" font-size="5.9" text-anchor="end" fill="#1a1a1a" stroke="#1a1a1a" stroke-width="0.15">0.6</text>
<line x1="267.2" y1="155.1" x2="270.2" y2="155.1" stroke="#111" stroke-width="1"/>
<text transform="translate(264,157.16)" font-size="5.9" text-anchor="end" fill="#1a1a1a" stroke="#1a1a1a" stroke-width="0.15">0.8</text>
<line x1="267.2" y1="141.7" x2="270.2" y2="141.7" stroke="#111" stroke-width="1"/>
<text transform="translate(264,143.76)" font-size="5.9" text-anchor="end" fill="#1a1a1a" stroke="#1a1a1a" stroke-width="0.15">1.0</text>
<line x1="267.2" y1="208.7" x2="378.5" y2="208.7" stroke="#111" stroke-width="1"/>
<line x1="279.56" y1="208.7" x2="279.56" y2="211.7" stroke="#111" stroke-width="1"/>
<line x1="285.82" y1="208.7" x2="285.82" y2="211.7" stroke="#111" stroke-width="1"/>
<line x1="292.08" y1="208.7" x2="292.08" y2="211.7" stroke="#111" stroke-width="1"/>
<line x1="298.34" y1="208.7" x2="298.34" y2="211.7" stroke="#111" stroke-width="1"/>
<line x1="304.6" y1="208.7" x2="304.6" y2="211.7" stroke="#111" stroke-width="1"/>
<line x1="310.86" y1="208.7" x2="310.86" y2="211.7" stroke="#111" stroke-width="1"/>
<line x1="317.12" y1="208.7" x2="317.12" y2="211.7" stroke="#111" stroke-width="1"/>
<line x1="323.38" y1="208.7" x2="323.38" y2="211.7" stroke="#111" stroke-width="1"/>
<line x1="329.64" y1="208.7" x2="329.64" y2="211.7" stroke="#111" stroke-width="1"/>
<line x1="335.9" y1="208.7" x2="335.9" y2="211.7" stroke="#111" stroke-width="1"/>
<line x1="342.16" y1="208.7" x2="342.16" y2="211.7" stroke="#111" stroke-width="1"/>
<line x1="348.42" y1="208.7" x2="348.42" y2="211.7" stroke="#111" stroke-width="1"/>
<line x1="354.68" y1="208.7" x2="354.68" y2="211.7" stroke="#111" stroke-width="1"/>
<line x1="360.94" y1="208.7" x2="360.94" y2="211.7" stroke="#111" stroke-width="1"/>
<line x1="367.2" y1="208.7" x2="367.2" y2="211.7" stroke="#111" stroke-width="1"/>
<line x1="373.46" y1="208.7" x2="373.46" y2="211.7" stroke="#111" stroke-width="1"/>
<text transform="translate(275.33,212.3) rotate(-90)" font-size="5.8" text-anchor="end" fill="#1a1a1a" stroke="#1a1a1a" stroke-width="0.15">0h</text>
<text transform="translate(281.59,212.3) rotate(-90)" font-size="5.8" text-anchor="end" fill="#1a1a1a" stroke="#1a1a1a" stroke-width="0.15">2h</text>
<text transform="translate(287.85,212.3) rotate(-90)" font-size="5.8" text-anchor="end" fill="#1a1a1a" stroke="#1a1a1a" stroke-width="0.15">6h</text>
<text transform="translate(294.11,212.3) rotate(-90)" font-size="5.8" text-anchor="end" fill="#1a1a1a" stroke="#1a1a1a" stroke-width="0.15">9h</text>
<text transform="translate(300.37,212.3) rotate(-90)" font-size="5.8" text-anchor="end" fill="#1a1a1a" stroke="#1a1a1a" stroke-width="0.15">12h</text>
<text transform="translate(306.63,212.3) rotate(-90)" font-size="5.8" text-anchor="end" fill="#1a1a1a" stroke="#1a1a1a" stroke-width="0.15">D1</text>
<text transform="translate(312.89,212.3) rotate(-90)" font-size="5.8" text-anchor="end" fill="#1a1a1a" stroke="#1a1a1a" stroke-width="0.15">D2</text>
<text transform="translate(319.15,212.3) rotate(-90)" font-size="5.8" text-anchor="end" fill="#1a1a1a" stroke="#1a1a1a" stroke-width="0.15">D3</text>
<text transform="translate(325.41,212.3) rotate(-90)" font-size="5.8" text-anchor="end" fill="#1a1a1a" stroke="#1a1a1a" stroke-width="0.15">D4</text>
<text transform="translate(331.67,212.3) rotate(-90)" font-size="5.8" text-anchor="end" fill="#1a1a1a" stroke="#1a1a1a" stroke-width="0.15">D6</text>
<text transform="translate(337.93,212.3) rotate(-90)" font-size="5.8" text-anchor="end" fill="#1a1a1a" stroke="#1a1a1a" stroke-width="0.15">D7</text>
<text transform="translate(344.19,212.3) rotate(-90)" font-size="5.8" text-anchor="end" fill="#1a1a1a" stroke="#1a1a1a" stroke-width="0.15">Wk3</text>
<text transform="translate(350.45,212.3) rotate(-90)" font-size="5.8" text-anchor="end" fill="#1a1a1a" stroke="#1a1a1a" stroke-width="0.15">Wk4</text>
<text transform="translate(356.71,212.3) rotate(-90)" font-size="5.8" text-anchor="end" fill="#1a1a1a" stroke="#1a1a1a" stroke-width="0.15">Wk5</text>
<text transform="translate(362.97,212.3) rotate(-90)" font-size="5.8" text-anchor="end" fill="#1a1a1a" stroke="#1a1a1a" stroke-width="0.15">Wk6</text>
<text transform="translate(369.23,212.3) rotate(-90)" font-size="5.8" text-anchor="end" fill="#1a1a1a" stroke="#1a1a1a" stroke-width="0.15">Wk7</text>
<text transform="translate(375.49,212.3) rotate(-90)" font-size="5.8" text-anchor="end" fill="#1a1a1a" stroke="#1a1a1a" stroke-width="0.15">Wk8</text>
<polyline points="273.3,208.7 279.56,197.31 285.82,170.51 292.08,192.62 298.34,199.52 304.6,205.35 310.86,208.03 317.12,204.88 323.38,199.52 329.64,193.96 335.9,175.4 342.16,195.97 348.42,206.15 354.68,208.7 360.94,208.7 367.2,208.7 373.46,208.7" fill="none" stroke="#c8102e" stroke-width="1.05" stroke-linejoin="round"/>
<circle cx="273.3" cy="208.7" r="1.85" fill="#c8102e"/>
<circle cx="279.56" cy="197.31" r="1.85" fill="#c8102e"/>
<circle cx="285.82" cy="170.51" r="1.85" fill="#c8102e"/>
<circle cx="292.08" cy="192.62" r="1.85" fill="#c8102e"/>
<circle cx="298.34" cy="199.52" r="1.85" fill="#c8102e"/>
<circle cx="304.6" cy="205.35" r="1.85" fill="#c8102e"/>
<circle cx="310.86" cy="208.03" r="1.85" fill="#c8102e"/>
<circle cx="317.12" cy="204.88" r="1.85" fill="#c8102e"/>
<circle cx="323.38" cy="199.52" r="1.85" fill="#c8102e"/>
<circle cx="329.64" cy="193.96" r="1.85" fill="#c8102e"/>
<circle cx="335.9" cy="175.4" r="1.85" fill="#c8102e"/>
<circle cx="342.16" cy="195.97" r="1.85" fill="#c8102e"/>
<circle cx="348.42" cy="206.15" r="1.85" fill="#c8102e"/>
<circle cx="354.68" cy="208.7" r="1.85" fill="#c8102e"/>
<circle cx="360.94" cy="208.7" r="1.85" fill="#c8102e"/>
<circle cx="367.2" cy="208.7" r="1.85" fill="#c8102e"/>
<circle cx="373.46" cy="208.7" r="1.85" fill="#c8102e"/>
<polyline points="273.3,208.7 279.56,203.61 285.82,207.16 292.08,207.16 298.34,206.89 304.6,206.69 310.86,207.43 317.12,206.02 323.38,202 329.64,197.98 335.9,190.14 342.16,198.31 348.42,207.36 354.68,208.7 360.94,208.7 367.2,208.7 373.46,208.7" fill="none" stroke="#0e4c8c" stroke-width="1.05" stroke-linejoin="round"/>
<circle cx="273.3" cy="208.7" r="1.85" fill="#0e4c8c"/>
<circle cx="279.56" cy="203.61" r="1.85" fill="#0e4c8c"/>
<circle cx="285.82" cy="207.16" r="1.85" fill="#0e4c8c"/>
<circle cx="292.08" cy="207.16" r="1.85" fill="#0e4c8c"/>
<circle cx="298.34" cy="206.89" r="1.85" fill="#0e4c8c"/>
<circle cx="304.6" cy="206.69" r="1.85" fill="#0e4c8c"/>
<circle cx="310.86" cy="207.43" r="1.85" fill="#0e4c8c"/>
<circle cx="317.12" cy="206.02" r="1.85" fill="#0e4c8c"/>
<circle cx="323.38" cy="202" r="1.85" fill="#0e4c8c"/>
<circle cx="329.64" cy="197.98" r="1.85" fill="#0e4c8c"/>
<circle cx="335.9" cy="190.14" r="1.85" fill="#0e4c8c"/>
<circle cx="342.16" cy="198.31" r="1.85" fill="#0e4c8c"/>
<circle cx="348.42" cy="207.36" r="1.85" fill="#0e4c8c"/>
<circle cx="354.68" cy="208.7" r="1.85" fill="#0e4c8c"/>
<circle cx="360.94" cy="208.7" r="1.85" fill="#0e4c8c"/>
<circle cx="367.2" cy="208.7" r="1.85" fill="#0e4c8c"/>
<circle cx="373.46" cy="208.7" r="1.85" fill="#0e4c8c"/>
<text transform="translate(245,172.6) rotate(-90) scale(0.792,1)" font-size="6.3" text-anchor="middle" fill="#1a1a1a" stroke="#1a1a1a" stroke-width="0.15">Cxcr4 and mgmt<tspan font-size="3.91" dy="-2.2">P140K</tspan><tspan dy="2.2"> mRNA</tspan></text>
<text transform="translate(251.2,172) rotate(-90) scale(0.897,1)" font-size="6" text-anchor="middle" fill="#1a1a1a" stroke="#1a1a1a" stroke-width="0.15">(% of GAPDH)</text>
<line x1="314.7" y1="147.8" x2="324.1" y2="147.8" stroke="#0e4c8c" stroke-width="1.05"/>
<circle cx="319.4" cy="147.8" r="1.85" fill="#0e4c8c"/>
<text transform="translate(328.8,150.25) scale(1.004,1)" font-size="7" text-anchor="start" fill="#1a1a1a" stroke="#1a1a1a" stroke-width="0.08">mgmt/GAPDH</text>
<line x1="314.7" y1="156.8" x2="324.1" y2="156.8" stroke="#c8102e" stroke-width="1.05"/>
<circle cx="319.4" cy="156.8" r="1.85" fill="#c8102e"/>
<text transform="translate(328.8,159.25) scale(1.015,1)" font-size="7" text-anchor="start" fill="#1a1a1a" stroke="#1a1a1a" stroke-width="0.08">cxcr4/GAPDH</text>
<line x1="413.5" y1="137.3" x2="413.5" y2="172.4" stroke="#111" stroke-width="1"/>
<line x1="410.5" y1="161.9" x2="413.5" y2="161.9" stroke="#111" stroke-width="1"/>
<text transform="translate(408,164)" font-size="6" text-anchor="end" fill="#1a1a1a" stroke="#1a1a1a" stroke-width="0.15">2</text>
<line x1="410.5" y1="151.4" x2="413.5" y2="151.4" stroke="#111" stroke-width="1"/>
<text transform="translate(408,153.5)" font-size="6" text-anchor="end" fill="#1a1a1a" stroke="#1a1a1a" stroke-width="0.15">3</text>
<line x1="410.5" y1="140.9" x2="413.5" y2="140.9" stroke="#111" stroke-width="1"/>
<text transform="translate(408,143)" font-size="6" text-anchor="end" fill="#1a1a1a" stroke="#1a1a1a" stroke-width="0.15">4</text>
<line x1="410.8" y1="172.4" x2="416.7" y2="172.4" stroke="#111" stroke-width="1"/>
<text transform="translate(408,174.5)" font-size="6" text-anchor="end" fill="#1a1a1a" stroke="#1a1a1a" stroke-width="0.15">1</text>
<line x1="413.5" y1="177.5" x2="413.5" y2="208.4" stroke="#111" stroke-width="1"/>
<line x1="410.8" y1="177.5" x2="416.7" y2="177.5" stroke="#111" stroke-width="1"/>
<line x1="410.5" y1="208.4" x2="413.5" y2="208.4" stroke="#111" stroke-width="1"/>
<text transform="translate(408.9,210.5) scale(1.127,1)" font-size="6" text-anchor="end" fill="#1a1a1a" stroke="#1a1a1a" stroke-width="0.15">0.0</text>
<line x1="410.5" y1="202.22" x2="413.5" y2="202.22" stroke="#111" stroke-width="1"/>
<text transform="translate(408.9,204.32) scale(1.127,1)" font-size="6" text-anchor="end" fill="#1a1a1a" stroke="#1a1a1a" stroke-width="0.15">0.2</text>
<line x1="410.5" y1="196.04" x2="413.5" y2="196.04" stroke="#111" stroke-width="1"/>
<text transform="translate(408.9,198.14) scale(1.127,1)" font-size="6" text-anchor="end" fill="#1a1a1a" stroke="#1a1a1a" stroke-width="0.15">0.4</text>
<line x1="410.5" y1="189.86" x2="413.5" y2="189.86" stroke="#111" stroke-width="1"/>
<text transform="translate(408.9,191.96) scale(1.127,1)" font-size="6" text-anchor="end" fill="#1a1a1a" stroke="#1a1a1a" stroke-width="0.15">0.6</text>
<line x1="410.5" y1="183.68" x2="413.5" y2="183.68" stroke="#111" stroke-width="1"/>
<text transform="translate(408.9,185.78) scale(1.127,1)" font-size="6" text-anchor="end" fill="#1a1a1a" stroke="#1a1a1a" stroke-width="0.15">0.8</text>
<text transform="translate(408.9,179.6) scale(1.127,1)" font-size="6" text-anchor="end" fill="#1a1a1a" stroke="#1a1a1a" stroke-width="0.15">1.0</text>
<line x1="410.5" y1="208.4" x2="513.2" y2="208.4" stroke="#111" stroke-width="1"/>
<line x1="422.54" y1="208.4" x2="422.54" y2="211.4" stroke="#111" stroke-width="1"/>
<line x1="428.68" y1="208.4" x2="428.68" y2="211.4" stroke="#111" stroke-width="1"/>
<line x1="434.82" y1="208.4" x2="434.82" y2="211.4" stroke="#111" stroke-width="1"/>
<line x1="440.96" y1="208.4" x2="440.96" y2="211.4" stroke="#111" stroke-width="1"/>
<line x1="447.1" y1="208.4" x2="447.1" y2="211.4" stroke="#111" stroke-width="1"/>
<line x1="453.24" y1="208.4" x2="453.24" y2="211.4" stroke="#111" stroke-width="1"/>
<line x1="459.38" y1="208.4" x2="459.38" y2="211.4" stroke="#111" stroke-width="1"/>
<line x1="465.52" y1="208.4" x2="465.52" y2="211.4" stroke="#111" stroke-width="1"/>
<line x1="471.66" y1="208.4" x2="471.66" y2="211.4" stroke="#111" stroke-width="1"/>
<line x1="477.8" y1="208.4" x2="477.8" y2="211.4" stroke="#111" stroke-width="1"/>
<line x1="483.94" y1="208.4" x2="483.94" y2="211.4" stroke="#111" stroke-width="1"/>
<line x1="490.08" y1="208.4" x2="490.08" y2="211.4" stroke="#111" stroke-width="1"/>
<line x1="496.22" y1="208.4" x2="496.22" y2="211.4" stroke="#111" stroke-width="1"/>
<line x1="502.36" y1="208.4" x2="502.36" y2="211.4" stroke="#111" stroke-width="1"/>
<line x1="508.5" y1="208.4" x2="508.5" y2="211.4" stroke="#111" stroke-width="1"/>
<text transform="translate(418.43,212.3) rotate(-90)" font-size="5.8" text-anchor="end" fill="#1a1a1a" stroke="#1a1a1a" stroke-width="0.15">0h</text>
<text transform="translate(424.57,212.3) rotate(-90)" font-size="5.8" text-anchor="end" fill="#1a1a1a" stroke="#1a1a1a" stroke-width="0.15">2h</text>
<text transform="translate(430.71,212.3) rotate(-90)" font-size="5.8" text-anchor="end" fill="#1a1a1a" stroke="#1a1a1a" stroke-width="0.15">6h</text>
<text transform="translate(436.85,212.3) rotate(-90)" font-size="5.8" text-anchor="end" fill="#1a1a1a" stroke="#1a1a1a" stroke-width="0.15">9h</text>
<text transform="translate(442.99,212.3) rotate(-90)" font-size="5.8" text-anchor="end" fill="#1a1a1a" stroke="#1a1a1a" stroke-width="0.15">12h</text>
<text transform="translate(449.13,212.3) rotate(-90)" font-size="5.8" text-anchor="end" fill="#1a1a1a" stroke="#1a1a1a" stroke-width="0.15">D1</text>
<text transform="translate(455.27,212.3) rotate(-90)" font-size="5.8" text-anchor="end" fill="#1a1a1a" stroke="#1a1a1a" stroke-width="0.15">D2</text>
<text transform="translate(461.41,212.3) rotate(-90)" font-size="5.8" text-anchor="end" fill="#1a1a1a" stroke="#1a1a1a" stroke-width="0.15">D3</text>
<text transform="translate(467.55,212.3) rotate(-90)" font-size="5.8" text-anchor="end" fill="#1a1a1a" stroke="#1a1a1a" stroke-width="0.15">D7</text>
<text transform="translate(473.69,212.3) rotate(-90)" font-size="5.8" text-anchor="end" fill="#1a1a1a" stroke="#1a1a1a" stroke-width="0.15">Wk2</text>
<text transform="translate(479.83,212.3) rotate(-90)" font-size="5.8" text-anchor="end" fill="#1a1a1a" stroke="#1a1a1a" stroke-width="0.15">Wk3</text>
<text transform="translate(485.97,212.3) rotate(-90)" font-size="5.8" text-anchor="end" fill="#1a1a1a" stroke="#1a1a1a" stroke-width="0.15">Wk4</text>
<text transform="translate(492.11,212.3) rotate(-90)" font-size="5.8" text-anchor="end" fill="#1a1a1a" stroke="#1a1a1a" stroke-width="0.15">Wk5</text>
<text transform="translate(498.25,212.3) rotate(-90)" font-size="5.8" text-anchor="end" fill="#1a1a1a" stroke="#1a1a1a" stroke-width="0.15">Wk6</text>
<text transform="translate(504.39,212.3) rotate(-90)" font-size="5.8" text-anchor="end" fill="#1a1a1a" stroke="#1a1a1a" stroke-width="0.15">Wk7</text>
<text transform="translate(510.53,212.3) rotate(-90)" font-size="5.8" text-anchor="end" fill="#1a1a1a" stroke="#1a1a1a" stroke-width="0.15">Wk8</text>
<line x1="416.4" y1="208.4" x2="422.54" y2="204.69" stroke="#c8102e" stroke-width="1.05"/>
<line x1="422.54" y1="204.69" x2="428.68" y2="181.21" stroke="#c8102e" stroke-width="1.05"/>
<line x1="428.68" y1="181.21" x2="429.16" y2="178.5" stroke="#c8102e" stroke-width="1.05"/>
<line x1="430.41" y1="171.5" x2="434.82" y2="146.68" stroke="#c8102e" stroke-width="1.05"/>
<line x1="434.82" y1="146.68" x2="440.96" y2="153.92" stroke="#c8102e" stroke-width="1.05"/>
<line x1="447.1" y1="195.42" x2="444.6" y2="178.5" stroke="#c8102e" stroke-width="1.05"/>
<line x1="443.56" y1="171.5" x2="440.96" y2="153.92" stroke="#c8102e" stroke-width="1.05"/>
<line x1="447.1" y1="195.42" x2="453.24" y2="206.86" stroke="#c8102e" stroke-width="1.05"/>
<line x1="453.24" y1="206.86" x2="459.38" y2="208.4" stroke="#c8102e" stroke-width="1.05"/>
<line x1="459.38" y1="208.4" x2="465.52" y2="208.4" stroke="#c8102e" stroke-width="1.05"/>
<line x1="465.52" y1="208.4" x2="471.66" y2="208.4" stroke="#c8102e" stroke-width="1.05"/>
<line x1="471.66" y1="208.4" x2="477.8" y2="208.4" stroke="#c8102e" stroke-width="1.05"/>
<line x1="477.8" y1="208.4" x2="483.94" y2="208.4" stroke="#c8102e" stroke-width="1.05"/>
<line x1="483.94" y1="208.4" x2="490.08" y2="208.4" stroke="#c8102e" stroke-width="1.05"/>
<line x1="490.08" y1="208.4" x2="496.22" y2="208.4" stroke="#c8102e" stroke-width="1.05"/>
<line x1="496.22" y1="208.4" x2="502.36" y2="208.4" stroke="#c8102e" stroke-width="1.05"/>
<line x1="502.36" y1="208.4" x2="508.5" y2="208.4" stroke="#c8102e" stroke-width="1.05"/>
<circle cx="416.4" cy="208.4" r="1.85" fill="#c8102e"/>
<circle cx="422.54" cy="204.69" r="1.85" fill="#c8102e"/>
<circle cx="428.68" cy="181.21" r="1.85" fill="#c8102e"/>
<circle cx="434.82" cy="146.68" r="1.85" fill="#c8102e"/>
<circle cx="440.96" cy="153.92" r="1.85" fill="#c8102e"/>
<circle cx="447.1" cy="195.42" r="1.85" fill="#c8102e"/>
<circle cx="453.24" cy="206.86" r="1.85" fill="#c8102e"/>
<circle cx="459.38" cy="208.4" r="1.85" fill="#c8102e"/>
<circle cx="465.52" cy="208.4" r="1.85" fill="#c8102e"/>
<circle cx="471.66" cy="208.4" r="1.85" fill="#c8102e"/>
<circle cx="477.8" cy="208.4" r="1.85" fill="#c8102e"/>
<circle cx="483.94" cy="208.4" r="1.85" fill="#c8102e"/>
<circle cx="490.08" cy="208.4" r="1.85" fill="#c8102e"/>
<circle cx="496.22" cy="208.4" r="1.85" fill="#c8102e"/>
<circle cx="502.36" cy="208.4" r="1.85" fill="#c8102e"/>
<circle cx="508.5" cy="208.4" r="1.85" fill="#c8102e"/>
<polyline points="416.4,208.4 422.54,207.78 428.68,207.16 434.82,204.07 440.96,201.29 447.1,206.24 453.24,207.16 459.38,208.09 465.52,208.4 471.66,208.4 477.8,208.4 483.94,208.4 490.08,208.4 496.22,208.4 502.36,208.4 508.5,208.4" fill="none" stroke="#0e4c8c" stroke-width="1.05" stroke-linejoin="round"/>
<circle cx="416.4" cy="208.4" r="1.85" fill="#0e4c8c"/>
<circle cx="422.54" cy="207.78" r="1.85" fill="#0e4c8c"/>
<circle cx="428.68" cy="207.16" r="1.85" fill="#0e4c8c"/>
<circle cx="434.82" cy="204.07" r="1.85" fill="#0e4c8c"/>
<circle cx="440.96" cy="201.29" r="1.85" fill="#0e4c8c"/>
<circle cx="447.1" cy="206.24" r="1.85" fill="#0e4c8c"/>
<circle cx="453.24" cy="207.16" r="1.85" fill="#0e4c8c"/>
<circle cx="459.38" cy="208.09" r="1.85" fill="#0e4c8c"/>
<circle cx="465.52" cy="208.4" r="1.85" fill="#0e4c8c"/>
<circle cx="471.66" cy="208.4" r="1.85" fill="#0e4c8c"/>
<circle cx="477.8" cy="208.4" r="1.85" fill="#0e4c8c"/>
<circle cx="483.94" cy="208.4" r="1.85" fill="#0e4c8c"/>
<circle cx="490.08" cy="208.4" r="1.85" fill="#0e4c8c"/>
<circle cx="496.22" cy="208.4" r="1.85" fill="#0e4c8c"/>
<circle cx="502.36" cy="208.4" r="1.85" fill="#0e4c8c"/>
<circle cx="508.5" cy="208.4" r="1.85" fill="#0e4c8c"/>
<text transform="translate(387.4,172.7) rotate(-90) scale(0.747,1)" font-size="6.5" text-anchor="middle" fill="#1a1a1a" stroke="#1a1a1a" stroke-width="0.15">Cxcr4 and mgmt mRNA level</text>
<text transform="translate(393.6,172.4) rotate(-90) scale(0.859,1)" font-size="6" text-anchor="middle" fill="#1a1a1a" stroke="#1a1a1a" stroke-width="0.15">(% of GAPDH)</text>
<line x1="456.7" y1="148.1" x2="465.5" y2="148.1" stroke="#0e4c8c" stroke-width="1.05"/>
<circle cx="461.1" cy="148.1" r="1.85" fill="#0e4c8c"/>
<text transform="translate(467.8,150.55) scale(1.026,1)" font-size="7" text-anchor="start" fill="#1a1a1a" stroke="#1a1a1a" stroke-width="0.08">mgmt/GAPDH</text>
<line x1="456.7" y1="156.8" x2="465.5" y2="156.8" stroke="#c8102e" stroke-width="1.05"/>
<circle cx="461.1" cy="156.8" r="1.85" fill="#c8102e"/>
<text transform="translate(467.8,159.25) scale(1.040,1)" font-size="7" text-anchor="start" fill="#1a1a1a" stroke="#1a1a1a" stroke-width="0.08">cxcr4/GAPDH</text>
<line x1="35.3" y1="248.4" x2="35.3" y2="308.2" stroke="#111" stroke-width="1"/>
<line x1="32.3" y1="308.2" x2="35.3" y2="308.2" stroke="#111" stroke-width="1"/>
<text transform="translate(29.8,310.26)" font-size="5.9" text-anchor="end" fill="#1a1a1a" stroke="#1a1a1a" stroke-width="0.15">0</text>
<line x1="32.3" y1="297" x2="35.3" y2="297" stroke="#111" stroke-width="1"/>
<text transform="translate(29.8,299.06)" font-size="5.9" text-anchor="end" fill="#1a1a1a" stroke="#1a1a1a" stroke-width="0.15">2</text>
<line x1="32.3" y1="285.8" x2="35.3" y2="285.8" stroke="#111" stroke-width="1"/>
<text transform="translate(29.8,287.87)" font-size="5.9" text-anchor="end" fill="#1a1a1a" stroke="#1a1a1a" stroke-width="0.15">4</text>
<line x1="32.3" y1="274.6" x2="35.3" y2="274.6" stroke="#111" stroke-width="1"/>
<text transform="translate(29.8,276.67)" font-size="5.9" text-anchor="end" fill="#1a1a1a" stroke="#1a1a1a" stroke-width="0.15">6</text>
<line x1="32.3" y1="263.4" x2="35.3" y2="263.4" stroke="#111" stroke-width="1"/>
<text transform="translate(29.8,265.46)" font-size="5.9" text-anchor="end" fill="#1a1a1a" stroke="#1a1a1a" stroke-width="0.15">8</text>
<line x1="32.3" y1="252.2" x2="35.3" y2="252.2" stroke="#111" stroke-width="1"/>
<text transform="translate(29.8,254.26)" font-size="5.9" text-anchor="end" fill="#1a1a1a" stroke="#1a1a1a" stroke-width="0.15">10</text>
<rect x="37.1" y="306.58" width="4" height="1.12" fill="#c8102e"/>
<rect x="44.53" y="307" width="4" height="0.7" fill="#c8102e"/>
<rect x="51.96" y="304.9" width="4" height="2.8" fill="#c8102e"/>
<rect x="59.39" y="303.33" width="4" height="4.37" fill="#c8102e"/>
<rect x="66.82" y="306.47" width="4" height="1.23" fill="#c8102e"/>
<rect x="74.25" y="305.46" width="4" height="2.24" fill="#c8102e"/>
<rect x="81.68" y="305.57" width="4" height="2.13" fill="#c8102e"/>
<rect x="89.11" y="305.85" width="4" height="1.85" fill="#c8102e"/>
<rect x="96.54" y="306.02" width="4" height="1.68" fill="#c8102e"/>
<rect x="103.97" y="306.47" width="4" height="1.23" fill="#c8102e"/>
<rect x="111.4" y="304.62" width="4" height="3.08" fill="#c8102e"/>
<line x1="32.2" y1="308.2" x2="117.8" y2="308.2" stroke="#111" stroke-width="1"/>
<line x1="39.1" y1="308.2" x2="39.1" y2="311.2" stroke="#111" stroke-width="1"/>
<line x1="46.53" y1="308.2" x2="46.53" y2="311.2" stroke="#111" stroke-width="1"/>
<line x1="53.96" y1="308.2" x2="53.96" y2="311.2" stroke="#111" stroke-width="1"/>
<line x1="61.39" y1="308.2" x2="61.39" y2="311.2" stroke="#111" stroke-width="1"/>
<line x1="68.82" y1="308.2" x2="68.82" y2="311.2" stroke="#111" stroke-width="1"/>
<line x1="76.25" y1="308.2" x2="76.25" y2="311.2" stroke="#111" stroke-width="1"/>
<line x1="83.68" y1="308.2" x2="83.68" y2="311.2" stroke="#111" stroke-width="1"/>
<line x1="91.11" y1="308.2" x2="91.11" y2="311.2" stroke="#111" stroke-width="1"/>
<line x1="98.54" y1="308.2" x2="98.54" y2="311.2" stroke="#111" stroke-width="1"/>
<line x1="105.97" y1="308.2" x2="105.97" y2="311.2" stroke="#111" stroke-width="1"/>
<line x1="113.4" y1="308.2" x2="113.4" y2="311.2" stroke="#111" stroke-width="1"/>
<text transform="translate(41.3,315.2) rotate(-90) scale(0.860,1)" font-size="6.3" text-anchor="end" fill="#1a1a1a" stroke="#1a1a1a" stroke-width="0.15">0h</text>
<text transform="translate(48.73,315.2) rotate(-90) scale(0.860,1)" font-size="6.3" text-anchor="end" fill="#1a1a1a" stroke="#1a1a1a" stroke-width="0.15">2h</text>
<text transform="translate(56.16,315.2) rotate(-90) scale(0.860,1)" font-size="6.3" text-anchor="end" fill="#1a1a1a" stroke="#1a1a1a" stroke-width="0.15">6h</text>
<text transform="translate(63.59,315.2) rotate(-90) scale(0.860,1)" font-size="6.3" text-anchor="end" fill="#1a1a1a" stroke="#1a1a1a" stroke-width="0.15">9h</text>
<text transform="translate(71.02,315.2) rotate(-90) scale(0.860,1)" font-size="6.3" text-anchor="end" fill="#1a1a1a" stroke="#1a1a1a" stroke-width="0.15">12h</text>
<text transform="translate(78.45,315.2) rotate(-90) scale(0.860,1)" font-size="6.3" text-anchor="end" fill="#1a1a1a" stroke="#1a1a1a" stroke-width="0.15">D1</text>
<text transform="translate(85.89,315.2) rotate(-90) scale(0.860,1)" font-size="6.3" text-anchor="end" fill="#1a1a1a" stroke="#1a1a1a" stroke-width="0.15">D2</text>
<text transform="translate(93.31,315.2) rotate(-90) scale(0.860,1)" font-size="6.3" text-anchor="end" fill="#1a1a1a" stroke="#1a1a1a" stroke-width="0.15">D3</text>
<text transform="translate(100.74,315.2) rotate(-90) scale(0.860,1)" font-size="6.3" text-anchor="end" fill="#1a1a1a" stroke="#1a1a1a" stroke-width="0.15">D4</text>
<text transform="translate(108.17,315.2) rotate(-90) scale(0.860,1)" font-size="6.3" text-anchor="end" fill="#1a1a1a" stroke="#1a1a1a" stroke-width="0.15">D6</text>
<text transform="translate(115.61,315.2) rotate(-90) scale(0.860,1)" font-size="6.3" text-anchor="end" fill="#1a1a1a" stroke="#1a1a1a" stroke-width="0.15">D7</text>
<text transform="translate(13.3,279.9) rotate(-90) scale(0.742,1)" font-size="6.4" text-anchor="middle" fill="#1a1a1a" stroke="#1a1a1a" stroke-width="0.15">% GFP-positive</text>
<text transform="translate(20.3,278.1) rotate(-90) scale(0.726,1)" font-size="6.4" text-anchor="middle" fill="#1a1a1a" stroke="#1a1a1a" stroke-width="0.15">CD34<tspan font-size="3.97" dy="-2.24">+</tspan><tspan dy="2.24">/CD45RA</tspan><tspan font-size="3.97" dy="-2.24">-</tspan><tspan dy="2.24">/CD90</tspan><tspan font-size="3.97" dy="-2.24">+</tspan><tspan dy="2.24"> cells</tspan></text>
<line x1="149.5" y1="248.9" x2="149.5" y2="308.4" stroke="#111" stroke-width="1"/>
<line x1="146.5" y1="308.4" x2="149.5" y2="308.4" stroke="#111" stroke-width="1"/>
<text transform="translate(143,310.46)" font-size="5.9" text-anchor="end" fill="#1a1a1a" stroke="#1a1a1a" stroke-width="0.15">0</text>
<line x1="146.5" y1="297.22" x2="149.5" y2="297.22" stroke="#111" stroke-width="1"/>
<text transform="translate(143,299.28)" font-size="5.9" text-anchor="end" fill="#1a1a1a" stroke="#1a1a1a" stroke-width="0.15">2</text>
<line x1="146.5" y1="286.04" x2="149.5" y2="286.04" stroke="#111" stroke-width="1"/>
<text transform="translate(143,288.1)" font-size="5.9" text-anchor="end" fill="#1a1a1a" stroke="#1a1a1a" stroke-width="0.15">4</text>
<line x1="146.5" y1="274.86" x2="149.5" y2="274.86" stroke="#111" stroke-width="1"/>
<text transform="translate(143,276.92)" font-size="5.9" text-anchor="end" fill="#1a1a1a" stroke="#1a1a1a" stroke-width="0.15">6</text>
<line x1="146.5" y1="263.68" x2="149.5" y2="263.68" stroke="#111" stroke-width="1"/>
<text transform="translate(143,265.74)" font-size="5.9" text-anchor="end" fill="#1a1a1a" stroke="#1a1a1a" stroke-width="0.15">8</text>
<line x1="146.5" y1="252.5" x2="149.5" y2="252.5" stroke="#111" stroke-width="1"/>
<text transform="translate(143,254.56)" font-size="5.9" text-anchor="end" fill="#1a1a1a" stroke="#1a1a1a" stroke-width="0.15">10</text>
<rect x="183.25" y="292.7" width="5.3" height="15.2" fill="#c8102e"/>
<rect x="193.65" y="257.7" width="5.3" height="50.2" fill="#c8102e"/>
<rect x="204.05" y="269.38" width="5.3" height="38.52" fill="#c8102e"/>
<rect x="214.45" y="285.32" width="5.3" height="22.58" fill="#c8102e"/>
<rect x="224.85" y="286.99" width="5.3" height="20.91" fill="#c8102e"/>
<line x1="146.4" y1="308.4" x2="235" y2="308.4" stroke="#111" stroke-width="1"/>
<line x1="154.7" y1="308.4" x2="154.7" y2="311.4" stroke="#111" stroke-width="1"/>
<line x1="165.1" y1="308.4" x2="165.1" y2="311.4" stroke="#111" stroke-width="1"/>
<line x1="175.5" y1="308.4" x2="175.5" y2="311.4" stroke="#111" stroke-width="1"/>
<line x1="185.9" y1="308.4" x2="185.9" y2="311.4" stroke="#111" stroke-width="1"/>
<line x1="196.3" y1="308.4" x2="196.3" y2="311.4" stroke="#111" stroke-width="1"/>
<line x1="206.7" y1="308.4" x2="206.7" y2="311.4" stroke="#111" stroke-width="1"/>
<line x1="217.1" y1="308.4" x2="217.1" y2="311.4" stroke="#111" stroke-width="1"/>
<line x1="227.5" y1="308.4" x2="227.5" y2="311.4" stroke="#111" stroke-width="1"/>
<text transform="translate(156.91,314.5) rotate(-90) scale(0.860,1)" font-size="6.3" text-anchor="end" fill="#1a1a1a" stroke="#1a1a1a" stroke-width="0.15">0h</text>
<text transform="translate(167.31,314.5) rotate(-90) scale(0.860,1)" font-size="6.3" text-anchor="end" fill="#1a1a1a" stroke="#1a1a1a" stroke-width="0.15">2h</text>
<text transform="translate(177.71,314.5) rotate(-90) scale(0.860,1)" font-size="6.3" text-anchor="end" fill="#1a1a1a" stroke="#1a1a1a" stroke-width="0.15">6h</text>
<text transform="translate(188.1,314.5) rotate(-90) scale(0.860,1)" font-size="6.3" text-anchor="end" fill="#1a1a1a" stroke="#1a1a1a" stroke-width="0.15">9h</text>
<text transform="translate(198.5,314.5) rotate(-90) scale(0.860,1)" font-size="6.3" text-anchor="end" fill="#1a1a1a" stroke="#1a1a1a" stroke-width="0.15">12h</text>
<text transform="translate(208.91,314.5) rotate(-90) scale(0.860,1)" font-size="6.3" text-anchor="end" fill="#1a1a1a" stroke="#1a1a1a" stroke-width="0.15">D1</text>
<text transform="translate(219.31,314.5) rotate(-90) scale(0.860,1)" font-size="6.3" text-anchor="end" fill="#1a1a1a" stroke="#1a1a1a" stroke-width="0.15">D2</text>
<text transform="translate(229.71,314.5) rotate(-90) scale(0.860,1)" font-size="6.3" text-anchor="end" fill="#1a1a1a" stroke="#1a1a1a" stroke-width="0.15">D3</text>
<text transform="translate(126.2,279.2) rotate(-90) scale(0.765,1)" font-size="6.4" text-anchor="middle" fill="#1a1a1a" stroke="#1a1a1a" stroke-width="0.15">% GFP-positive</text>
<text transform="translate(133.7,279.7) rotate(-90) scale(0.741,1)" font-size="6.4" text-anchor="middle" fill="#1a1a1a" stroke="#1a1a1a" stroke-width="0.15">CD34<tspan font-size="3.97" dy="-2.24">+</tspan><tspan dy="2.24">/CD45RA</tspan><tspan font-size="3.97" dy="-2.24">-</tspan><tspan dy="2.24">/CD90</tspan><tspan font-size="3.97" dy="-2.24">+</tspan><tspan dy="2.24"> cells</tspan></text>
<line x1="269.5" y1="248.9" x2="269.5" y2="308.4" stroke="#111" stroke-width="1"/>
<line x1="266.5" y1="308.4" x2="269.5" y2="308.4" stroke="#111" stroke-width="1"/>
<text transform="translate(263.5,310.46)" font-size="5.9" text-anchor="end" fill="#1a1a1a" stroke="#1a1a1a" stroke-width="0.15">0</text>
<line x1="266.5" y1="297.22" x2="269.5" y2="297.22" stroke="#111" stroke-width="1"/>
<text transform="translate(263.5,299.28)" font-size="5.9" text-anchor="end" fill="#1a1a1a" stroke="#1a1a1a" stroke-width="0.15">2</text>
<line x1="266.5" y1="286.04" x2="269.5" y2="286.04" stroke="#111" stroke-width="1"/>
<text transform="translate(263.5,288.1)" font-size="5.9" text-anchor="end" fill="#1a1a1a" stroke="#1a1a1a" stroke-width="0.15">4</text>
<line x1="266.5" y1="274.86" x2="269.5" y2="274.86" stroke="#111" stroke-width="1"/>
<text transform="translate(263.5,276.92)" font-size="5.9" text-anchor="end" fill="#1a1a1a" stroke="#1a1a1a" stroke-width="0.15">6</text>
<line x1="266.5" y1="263.68" x2="269.5" y2="263.68" stroke="#111" stroke-width="1"/>
<text transform="translate(263.5,265.74)" font-size="5.9" text-anchor="end" fill="#1a1a1a" stroke="#1a1a1a" stroke-width="0.15">8</text>
<line x1="266.5" y1="252.5" x2="269.5" y2="252.5" stroke="#111" stroke-width="1"/>
<text transform="translate(263.5,254.56)" font-size="5.9" text-anchor="end" fill="#1a1a1a" stroke="#1a1a1a" stroke-width="0.15">10</text>
<rect x="272.65" y="307.06" width="4.7" height="0.84" fill="#c8102e"/>
<rect x="280.19" y="307.06" width="4.7" height="0.84" fill="#c8102e"/>
<rect x="287.73" y="299.79" width="4.7" height="8.11" fill="#c8102e"/>
<rect x="295.27" y="303.88" width="4.7" height="4.02" fill="#c8102e"/>
<rect x="302.81" y="302.7" width="4.7" height="5.2" fill="#c8102e"/>
<rect x="310.35" y="301.7" width="4.7" height="6.2" fill="#c8102e"/>
<rect x="317.89" y="306.28" width="4.7" height="1.62" fill="#c8102e"/>
<rect x="325.43" y="304.83" width="4.7" height="3.07" fill="#c8102e"/>
<rect x="332.97" y="307.2" width="4.7" height="0.7" fill="#c8102e"/>
<rect x="340.51" y="307.2" width="4.7" height="0.7" fill="#c8102e"/>
<rect x="348.05" y="307.2" width="4.7" height="0.7" fill="#c8102e"/>
<rect x="355.59" y="307.2" width="4.7" height="0.7" fill="#c8102e"/>
<rect x="363.13" y="307.2" width="4.7" height="0.7" fill="#c8102e"/>
<rect x="370.67" y="307.2" width="4.7" height="0.7" fill="#c8102e"/>
<line x1="266.5" y1="308.4" x2="378" y2="308.4" stroke="#111" stroke-width="1"/>
<line x1="275" y1="308.4" x2="275" y2="311.4" stroke="#111" stroke-width="1"/>
<line x1="282.54" y1="308.4" x2="282.54" y2="311.4" stroke="#111" stroke-width="1"/>
<line x1="290.08" y1="308.4" x2="290.08" y2="311.4" stroke="#111" stroke-width="1"/>
<line x1="297.62" y1="308.4" x2="297.62" y2="311.4" stroke="#111" stroke-width="1"/>
<line x1="305.16" y1="308.4" x2="305.16" y2="311.4" stroke="#111" stroke-width="1"/>
<line x1="312.7" y1="308.4" x2="312.7" y2="311.4" stroke="#111" stroke-width="1"/>
<line x1="320.24" y1="308.4" x2="320.24" y2="311.4" stroke="#111" stroke-width="1"/>
<line x1="327.78" y1="308.4" x2="327.78" y2="311.4" stroke="#111" stroke-width="1"/>
<line x1="335.32" y1="308.4" x2="335.32" y2="311.4" stroke="#111" stroke-width="1"/>
<line x1="342.86" y1="308.4" x2="342.86" y2="311.4" stroke="#111" stroke-width="1"/>
<line x1="350.4" y1="308.4" x2="350.4" y2="311.4" stroke="#111" stroke-width="1"/>
<line x1="357.94" y1="308.4" x2="357.94" y2="311.4" stroke="#111" stroke-width="1"/>
<line x1="365.48" y1="308.4" x2="365.48" y2="311.4" stroke="#111" stroke-width="1"/>
<line x1="373.02" y1="308.4" x2="373.02" y2="311.4" stroke="#111" stroke-width="1"/>
<text transform="translate(277.2,315.4) rotate(-90) scale(0.880,1)" font-size="6.3" text-anchor="end" fill="#1a1a1a" stroke="#1a1a1a" stroke-width="0.15">0h</text>
<text transform="translate(284.75,315.4) rotate(-90) scale(0.880,1)" font-size="6.3" text-anchor="end" fill="#1a1a1a" stroke="#1a1a1a" stroke-width="0.15">2h</text>
<text transform="translate(292.28,315.4) rotate(-90) scale(0.880,1)" font-size="6.3" text-anchor="end" fill="#1a1a1a" stroke="#1a1a1a" stroke-width="0.15">6h</text>
<text transform="translate(299.82,315.4) rotate(-90) scale(0.880,1)" font-size="6.3" text-anchor="end" fill="#1a1a1a" stroke="#1a1a1a" stroke-width="0.15">9h</text>
<text transform="translate(307.37,315.4) rotate(-90) scale(0.880,1)" font-size="6.3" text-anchor="end" fill="#1a1a1a" stroke="#1a1a1a" stroke-width="0.15">12h</text>
<text transform="translate(314.9,315.4) rotate(-90) scale(0.880,1)" font-size="6.3" text-anchor="end" fill="#1a1a1a" stroke="#1a1a1a" stroke-width="0.15">D1</text>
<text transform="translate(322.44,315.4) rotate(-90) scale(0.880,1)" font-size="6.3" text-anchor="end" fill="#1a1a1a" stroke="#1a1a1a" stroke-width="0.15">D2</text>
<text transform="translate(329.98,315.4) rotate(-90) scale(0.880,1)" font-size="6.3" text-anchor="end" fill="#1a1a1a" stroke="#1a1a1a" stroke-width="0.15">D3</text>
<text transform="translate(337.52,315.4) rotate(-90) scale(0.880,1)" font-size="6.3" text-anchor="end" fill="#1a1a1a" stroke="#1a1a1a" stroke-width="0.15">D4</text>
<text transform="translate(345.06,315.4) rotate(-90) scale(0.880,1)" font-size="6.3" text-anchor="end" fill="#1a1a1a" stroke="#1a1a1a" stroke-width="0.15">D6</text>
<text transform="translate(352.6,315.4) rotate(-90) scale(0.880,1)" font-size="6.3" text-anchor="end" fill="#1a1a1a" stroke="#1a1a1a" stroke-width="0.15">D7</text>
<text transform="translate(360.14,315.4) rotate(-90) scale(0.880,1)" font-size="6.3" text-anchor="end" fill="#1a1a1a" stroke="#1a1a1a" stroke-width="0.15">Wk3</text>
<text transform="translate(367.69,315.4) rotate(-90) scale(0.880,1)" font-size="6.3" text-anchor="end" fill="#1a1a1a" stroke="#1a1a1a" stroke-width="0.15">Wk4</text>
<text transform="translate(375.22,315.4) rotate(-90) scale(0.880,1)" font-size="6.3" text-anchor="end" fill="#1a1a1a" stroke="#1a1a1a" stroke-width="0.15">Wk8</text>
<text transform="translate(246,278.8) rotate(-90) scale(0.776,1)" font-size="6.4" text-anchor="middle" fill="#1a1a1a" stroke="#1a1a1a" stroke-width="0.15">% GFP-positive</text>
<text transform="translate(253.8,280.9) rotate(-90) scale(0.749,1)" font-size="6.4" text-anchor="middle" fill="#1a1a1a" stroke="#1a1a1a" stroke-width="0.15">CD34<tspan font-size="3.97" dy="-2.24">+</tspan><tspan dy="2.24">/CD45RA</tspan><tspan font-size="3.97" dy="-2.24">-</tspan><tspan dy="2.24">/CD90</tspan><tspan font-size="3.97" dy="-2.24">+</tspan><tspan dy="2.24"> cells</tspan></text>
<line x1="413.5" y1="245.6" x2="413.5" y2="308.4" stroke="#111" stroke-width="1"/>
<line x1="410.5" y1="308.4" x2="413.5" y2="308.4" stroke="#111" stroke-width="1"/>
<text transform="translate(406.7,310.46)" font-size="5.9" text-anchor="end" fill="#1a1a1a" stroke="#1a1a1a" stroke-width="0.15">0</text>
<line x1="410.5" y1="296.9" x2="413.5" y2="296.9" stroke="#111" stroke-width="1"/>
<text transform="translate(406.7,298.96)" font-size="5.9" text-anchor="end" fill="#1a1a1a" stroke="#1a1a1a" stroke-width="0.15">5</text>
<line x1="410.5" y1="285.4" x2="413.5" y2="285.4" stroke="#111" stroke-width="1"/>
<text transform="translate(406.7,287.46)" font-size="5.9" text-anchor="end" fill="#1a1a1a" stroke="#1a1a1a" stroke-width="0.15">10</text>
<line x1="410.5" y1="273.9" x2="413.5" y2="273.9" stroke="#111" stroke-width="1"/>
<text transform="translate(406.7,275.96)" font-size="5.9" text-anchor="end" fill="#1a1a1a" stroke="#1a1a1a" stroke-width="0.15">15</text>
<line x1="410.5" y1="262.4" x2="413.5" y2="262.4" stroke="#111" stroke-width="1"/>
<text transform="translate(406.7,264.46)" font-size="5.9" text-anchor="end" fill="#1a1a1a" stroke="#1a1a1a" stroke-width="0.15">20</text>
<line x1="410.5" y1="250.9" x2="413.5" y2="250.9" stroke="#111" stroke-width="1"/>
<text transform="translate(406.7,252.96)" font-size="5.9" text-anchor="end" fill="#1a1a1a" stroke="#1a1a1a" stroke-width="0.15">25</text>
<rect x="416.3" y="306.98" width="4.6" height="0.92" fill="#c8102e"/>
<rect x="423.77" y="303.3" width="4.6" height="4.6" fill="#c8102e"/>
<rect x="431.24" y="268.57" width="4.6" height="39.33" fill="#c8102e"/>
<rect x="438.71" y="269.03" width="4.6" height="38.87" fill="#c8102e"/>
<rect x="446.18" y="256.38" width="4.6" height="51.52" fill="#c8102e"/>
<rect x="453.65" y="274.32" width="4.6" height="33.58" fill="#c8102e"/>
<rect x="461.12" y="292.72" width="4.6" height="15.18" fill="#c8102e"/>
<rect x="468.59" y="294.33" width="4.6" height="13.57" fill="#c8102e"/>
<rect x="476.06" y="295.25" width="4.6" height="12.65" fill="#c8102e"/>
<rect x="483.53" y="307.2" width="4.6" height="0.7" fill="#c8102e"/>
<rect x="491" y="307.2" width="4.6" height="0.7" fill="#c8102e"/>
<rect x="498.47" y="307.2" width="4.6" height="0.7" fill="#c8102e"/>
<rect x="505.94" y="307.2" width="4.6" height="0.7" fill="#c8102e"/>
<line x1="410.5" y1="308.4" x2="513" y2="308.4" stroke="#111" stroke-width="1"/>
<line x1="418.6" y1="308.4" x2="418.6" y2="311.4" stroke="#111" stroke-width="1"/>
<line x1="426.07" y1="308.4" x2="426.07" y2="311.4" stroke="#111" stroke-width="1"/>
<line x1="433.54" y1="308.4" x2="433.54" y2="311.4" stroke="#111" stroke-width="1"/>
<line x1="441.01" y1="308.4" x2="441.01" y2="311.4" stroke="#111" stroke-width="1"/>
<line x1="448.48" y1="308.4" x2="448.48" y2="311.4" stroke="#111" stroke-width="1"/>
<line x1="455.95" y1="308.4" x2="455.95" y2="311.4" stroke="#111" stroke-width="1"/>
<line x1="463.42" y1="308.4" x2="463.42" y2="311.4" stroke="#111" stroke-width="1"/>
<line x1="470.89" y1="308.4" x2="470.89" y2="311.4" stroke="#111" stroke-width="1"/>
<line x1="478.36" y1="308.4" x2="478.36" y2="311.4" stroke="#111" stroke-width="1"/>
<line x1="485.83" y1="308.4" x2="485.83" y2="311.4" stroke="#111" stroke-width="1"/>
<line x1="493.3" y1="308.4" x2="493.3" y2="311.4" stroke="#111" stroke-width="1"/>
<line x1="500.77" y1="308.4" x2="500.77" y2="311.4" stroke="#111" stroke-width="1"/>
<line x1="508.24" y1="308.4" x2="508.24" y2="311.4" stroke="#111" stroke-width="1"/>
<text transform="translate(420.81,315.1) rotate(-90) scale(0.880,1)" font-size="6.3" text-anchor="end" fill="#1a1a1a" stroke="#1a1a1a" stroke-width="0.15">0h</text>
<text transform="translate(428.28,315.1) rotate(-90) scale(0.880,1)" font-size="6.3" text-anchor="end" fill="#1a1a1a" stroke="#1a1a1a" stroke-width="0.15">2h</text>
<text transform="translate(435.75,315.1) rotate(-90) scale(0.880,1)" font-size="6.3" text-anchor="end" fill="#1a1a1a" stroke="#1a1a1a" stroke-width="0.15">6h</text>
<text transform="translate(443.22,315.1) rotate(-90) scale(0.880,1)" font-size="6.3" text-anchor="end" fill="#1a1a1a" stroke="#1a1a1a" stroke-width="0.15">9h</text>
<text transform="translate(450.69,315.1) rotate(-90) scale(0.880,1)" font-size="6.3" text-anchor="end" fill="#1a1a1a" stroke="#1a1a1a" stroke-width="0.15">12h</text>
<text transform="translate(458.16,315.1) rotate(-90) scale(0.880,1)" font-size="6.3" text-anchor="end" fill="#1a1a1a" stroke="#1a1a1a" stroke-width="0.15">D1</text>
<text transform="translate(465.62,315.1) rotate(-90) scale(0.880,1)" font-size="6.3" text-anchor="end" fill="#1a1a1a" stroke="#1a1a1a" stroke-width="0.15">D2</text>
<text transform="translate(473.1,315.1) rotate(-90) scale(0.880,1)" font-size="6.3" text-anchor="end" fill="#1a1a1a" stroke="#1a1a1a" stroke-width="0.15">D3</text>
<text transform="translate(480.56,315.1) rotate(-90) scale(0.880,1)" font-size="6.3" text-anchor="end" fill="#1a1a1a" stroke="#1a1a1a" stroke-width="0.15">D7</text>
<text transform="translate(488.04,315.1) rotate(-90) scale(0.880,1)" font-size="6.3" text-anchor="end" fill="#1a1a1a" stroke="#1a1a1a" stroke-width="0.15">Wk2</text>
<text transform="translate(495.5,315.1) rotate(-90) scale(0.880,1)" font-size="6.3" text-anchor="end" fill="#1a1a1a" stroke="#1a1a1a" stroke-width="0.15">Wk3</text>
<text transform="translate(502.98,315.1) rotate(-90) scale(0.880,1)" font-size="6.3" text-anchor="end" fill="#1a1a1a" stroke="#1a1a1a" stroke-width="0.15">Wk4</text>
<text transform="translate(510.44,315.1) rotate(-90) scale(0.880,1)" font-size="6.3" text-anchor="end" fill="#1a1a1a" stroke="#1a1a1a" stroke-width="0.15">Wk8</text>
<text transform="translate(389.3,275) rotate(-90) scale(0.772,1)" font-size="6.4" text-anchor="middle" fill="#1a1a1a" stroke="#1a1a1a" stroke-width="0.15">% GFP-positive</text>
<text transform="translate(397.3,276.5) rotate(-90) scale(0.769,1)" font-size="6.4" text-anchor="middle" fill="#1a1a1a" stroke="#1a1a1a" stroke-width="0.15">CD34<tspan font-size="3.97" dy="-2.24">+</tspan><tspan dy="2.24">/CD45RA</tspan><tspan font-size="3.97" dy="-2.24">-</tspan><tspan dy="2.24">/CD90</tspan><tspan font-size="3.97" dy="-2.24">+</tspan><tspan dy="2.24"> cells</tspan></text>
<rect x="0.5" y="0.5" width="519" height="333" fill="none" stroke="#000" stroke-width="1"/>
</svg>
</body></html>
